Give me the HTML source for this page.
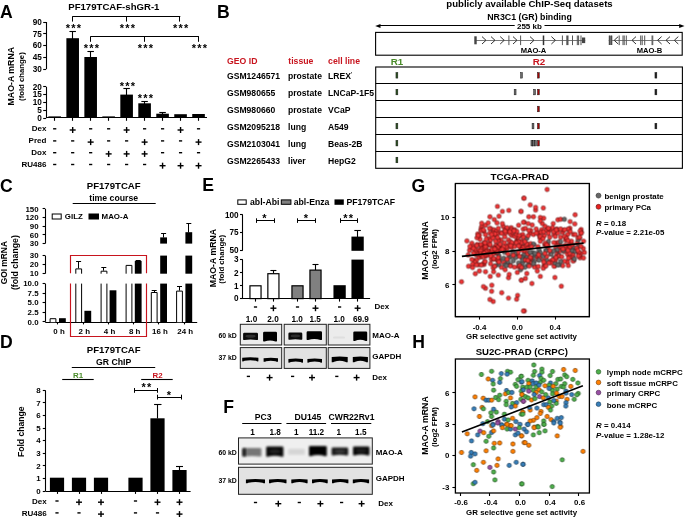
<!DOCTYPE html>
<html><head><meta charset="utf-8"><style>
html,body{margin:0;padding:0;background:#fff;}
svg{display:block;will-change:transform;}
text{font-family:"Liberation Sans",sans-serif;}
</style></head><body>
<svg width="685" height="517" viewBox="0 0 685 517">
<defs><filter id="bl" x="-30%" y="-80%" width="160%" height="260%"><feGaussianBlur stdDeviation="0.7"/></filter><filter id="bs" x="-30%" y="-80%" width="160%" height="260%"><feGaussianBlur stdDeviation="0.45"/></filter><filter id="bf" x="-30%" y="-80%" width="160%" height="260%"><feGaussianBlur stdDeviation="1.0"/></filter></defs>
<rect width="685" height="517" fill="#fff"/>
<text x="0.00" y="18.00" font-size="17.6" font-weight="bold" text-anchor="start" fill="#000" >A</text>
<text x="113.85" y="10.30" font-size="9.6" font-weight="bold" text-anchor="middle" fill="#000" >PF179TCAF-shGR-1</text>
<line x1="46.50" y1="22.00" x2="46.50" y2="69.20" stroke="#000" stroke-width="1.1" />
<line x1="43.20" y1="22.50" x2="46.00" y2="22.50" stroke="#000" stroke-width="1.1" />
<text x="41.90" y="24.82" font-size="8.2" font-weight="bold" text-anchor="end" fill="#000" >90</text>
<line x1="43.20" y1="33.50" x2="46.00" y2="33.50" stroke="#000" stroke-width="1.1" />
<text x="41.90" y="36.62" font-size="8.2" font-weight="bold" text-anchor="end" fill="#000" >75</text>
<line x1="43.20" y1="45.50" x2="46.00" y2="45.50" stroke="#000" stroke-width="1.1" />
<text x="41.90" y="48.42" font-size="8.2" font-weight="bold" text-anchor="end" fill="#000" >60</text>
<line x1="43.20" y1="57.50" x2="46.00" y2="57.50" stroke="#000" stroke-width="1.1" />
<text x="41.90" y="60.22" font-size="8.2" font-weight="bold" text-anchor="end" fill="#000" >45</text>
<line x1="43.20" y1="69.50" x2="46.00" y2="69.50" stroke="#000" stroke-width="1.1" />
<text x="41.90" y="72.02" font-size="8.2" font-weight="bold" text-anchor="end" fill="#000" >30</text>
<line x1="46.50" y1="86.70" x2="46.50" y2="118.20" stroke="#000" stroke-width="1.1" />
<line x1="43.20" y1="86.50" x2="46.00" y2="86.50" stroke="#000" stroke-width="1.1" />
<text x="41.90" y="89.52" font-size="8.2" font-weight="bold" text-anchor="end" fill="#000" >20</text>
<line x1="43.20" y1="94.50" x2="46.00" y2="94.50" stroke="#000" stroke-width="1.1" />
<text x="41.90" y="97.42" font-size="8.2" font-weight="bold" text-anchor="end" fill="#000" >15</text>
<line x1="43.20" y1="102.50" x2="46.00" y2="102.50" stroke="#000" stroke-width="1.1" />
<text x="41.90" y="105.27" font-size="8.2" font-weight="bold" text-anchor="end" fill="#000" >10</text>
<line x1="43.20" y1="110.50" x2="46.00" y2="110.50" stroke="#000" stroke-width="1.1" />
<text x="41.90" y="113.12" font-size="8.2" font-weight="bold" text-anchor="end" fill="#000" >5</text>
<line x1="43.20" y1="118.50" x2="46.00" y2="118.50" stroke="#000" stroke-width="1.1" />
<text x="41.90" y="121.02" font-size="8.2" font-weight="bold" text-anchor="end" fill="#000" >0</text>
<line x1="46.00" y1="117.50" x2="207.00" y2="117.50" stroke="#000" stroke-width="1.1" />
<text transform="translate(13.90,76.20) rotate(-90)" font-size="8.75" font-weight="bold" text-anchor="middle" fill="#000">MAO-A mRNA</text>
<text transform="translate(24.20,76.60) rotate(-90)" font-size="7.75" font-weight="bold" text-anchor="middle" fill="#000">(fold change)</text>
<rect x="48.40" y="116.40" width="12.60" height="1.50" fill="#000" stroke="none" stroke-width="1" />
<line x1="54.50" y1="117.90" x2="54.50" y2="120.80" stroke="#000" stroke-width="1.1" />
<line x1="72.50" y1="31.20" x2="72.50" y2="39.20" stroke="#000" stroke-width="1.1" />
<line x1="69.43" y1="31.50" x2="75.93" y2="31.50" stroke="#000" stroke-width="1.1" />
<rect x="66.38" y="38.20" width="12.60" height="79.70" fill="#000" stroke="none" stroke-width="1" />
<line x1="72.50" y1="117.90" x2="72.50" y2="120.80" stroke="#000" stroke-width="1.1" />
<line x1="90.50" y1="51.20" x2="90.50" y2="58.00" stroke="#000" stroke-width="1.1" />
<line x1="87.41" y1="51.50" x2="93.91" y2="51.50" stroke="#000" stroke-width="1.1" />
<rect x="84.36" y="57.00" width="12.60" height="60.90" fill="#000" stroke="none" stroke-width="1" />
<line x1="90.50" y1="117.90" x2="90.50" y2="120.80" stroke="#000" stroke-width="1.1" />
<rect x="102.34" y="116.40" width="12.60" height="1.50" fill="#000" stroke="none" stroke-width="1" />
<line x1="108.50" y1="117.90" x2="108.50" y2="120.80" stroke="#000" stroke-width="1.1" />
<line x1="126.50" y1="88.20" x2="126.50" y2="95.60" stroke="#000" stroke-width="1.1" />
<line x1="123.37" y1="88.50" x2="129.87" y2="88.50" stroke="#000" stroke-width="1.1" />
<rect x="120.32" y="94.60" width="12.60" height="23.30" fill="#000" stroke="none" stroke-width="1" />
<line x1="126.50" y1="117.90" x2="126.50" y2="120.80" stroke="#000" stroke-width="1.1" />
<line x1="144.50" y1="101.00" x2="144.50" y2="104.30" stroke="#000" stroke-width="1.1" />
<line x1="141.35" y1="101.50" x2="147.85" y2="101.50" stroke="#000" stroke-width="1.1" />
<rect x="138.30" y="103.30" width="12.60" height="14.60" fill="#000" stroke="none" stroke-width="1" />
<line x1="144.50" y1="117.90" x2="144.50" y2="120.80" stroke="#000" stroke-width="1.1" />
<line x1="162.50" y1="112.30" x2="162.50" y2="114.70" stroke="#000" stroke-width="1.1" />
<line x1="159.33" y1="112.50" x2="165.83" y2="112.50" stroke="#000" stroke-width="1.1" />
<rect x="156.28" y="113.70" width="12.60" height="4.20" fill="#000" stroke="none" stroke-width="1" />
<line x1="162.50" y1="117.90" x2="162.50" y2="120.80" stroke="#000" stroke-width="1.1" />
<rect x="174.26" y="114.20" width="12.60" height="3.70" fill="#000" stroke="none" stroke-width="1" />
<line x1="180.50" y1="117.90" x2="180.50" y2="120.80" stroke="#000" stroke-width="1.1" />
<rect x="192.24" y="114.00" width="12.60" height="3.90" fill="#000" stroke="none" stroke-width="1" />
<line x1="198.50" y1="117.90" x2="198.50" y2="120.80" stroke="#000" stroke-width="1.1" />
<line x1="72.70" y1="16.50" x2="180.30" y2="16.50" stroke="#000" stroke-width="1.0" />
<line x1="72.50" y1="16.20" x2="72.50" y2="21.60" stroke="#000" stroke-width="1.0" />
<line x1="126.50" y1="16.20" x2="126.50" y2="21.60" stroke="#000" stroke-width="1.0" />
<line x1="179.50" y1="16.20" x2="179.50" y2="21.60" stroke="#000" stroke-width="1.0" />
<line x1="90.60" y1="36.50" x2="198.90" y2="36.50" stroke="#000" stroke-width="1.0" />
<line x1="90.50" y1="36.30" x2="90.50" y2="41.80" stroke="#000" stroke-width="1.0" />
<line x1="144.50" y1="36.30" x2="144.50" y2="41.80" stroke="#000" stroke-width="1.0" />
<line x1="198.50" y1="36.30" x2="198.50" y2="41.80" stroke="#000" stroke-width="1.0" />
<text x="74.10" y="31.92" font-size="11.0" font-weight="bold" text-anchor="middle" fill="#000" letter-spacing="1.2">***</text>
<text x="128.00" y="31.92" font-size="11.0" font-weight="bold" text-anchor="middle" fill="#000" letter-spacing="1.2">***</text>
<text x="181.20" y="31.92" font-size="11.0" font-weight="bold" text-anchor="middle" fill="#000" letter-spacing="1.2">***</text>
<text x="92.00" y="52.12" font-size="11.0" font-weight="bold" text-anchor="middle" fill="#000" letter-spacing="1.2">***</text>
<text x="145.90" y="52.12" font-size="11.0" font-weight="bold" text-anchor="middle" fill="#000" letter-spacing="1.2">***</text>
<text x="199.90" y="52.12" font-size="11.0" font-weight="bold" text-anchor="middle" fill="#000" letter-spacing="1.2">***</text>
<text x="128.00" y="89.92" font-size="11.0" font-weight="bold" text-anchor="middle" fill="#000" letter-spacing="1.2">***</text>
<text x="145.90" y="102.02" font-size="11.0" font-weight="bold" text-anchor="middle" fill="#000" letter-spacing="1.2">***</text>
<text x="46.40" y="130.85" font-size="8.0" font-weight="bold" text-anchor="end" fill="#000" >Dex</text>
<rect x="53.10" y="128.10" width="3.20" height="1.40" fill="#000" stroke="none" stroke-width="1" />
<rect x="69.68" y="129.30" width="6.00" height="1.40" fill="#000" stroke="none" stroke-width="1" />
<rect x="71.98" y="127.00" width="1.40" height="6.00" fill="#000" stroke="none" stroke-width="1" />
<rect x="89.06" y="128.10" width="3.20" height="1.40" fill="#000" stroke="none" stroke-width="1" />
<rect x="107.04" y="128.10" width="3.20" height="1.40" fill="#000" stroke="none" stroke-width="1" />
<rect x="123.62" y="129.30" width="6.00" height="1.40" fill="#000" stroke="none" stroke-width="1" />
<rect x="125.92" y="127.00" width="1.40" height="6.00" fill="#000" stroke="none" stroke-width="1" />
<rect x="143.00" y="128.10" width="3.20" height="1.40" fill="#000" stroke="none" stroke-width="1" />
<rect x="160.98" y="128.10" width="3.20" height="1.40" fill="#000" stroke="none" stroke-width="1" />
<rect x="177.56" y="129.30" width="6.00" height="1.40" fill="#000" stroke="none" stroke-width="1" />
<rect x="179.86" y="127.00" width="1.40" height="6.00" fill="#000" stroke="none" stroke-width="1" />
<rect x="196.94" y="128.10" width="3.20" height="1.40" fill="#000" stroke="none" stroke-width="1" />
<text x="46.40" y="142.95" font-size="8.0" font-weight="bold" text-anchor="end" fill="#000" >Pred</text>
<rect x="53.10" y="140.20" width="3.20" height="1.40" fill="#000" stroke="none" stroke-width="1" />
<rect x="71.08" y="140.20" width="3.20" height="1.40" fill="#000" stroke="none" stroke-width="1" />
<rect x="87.66" y="141.40" width="6.00" height="1.40" fill="#000" stroke="none" stroke-width="1" />
<rect x="89.96" y="139.10" width="1.40" height="6.00" fill="#000" stroke="none" stroke-width="1" />
<rect x="107.04" y="140.20" width="3.20" height="1.40" fill="#000" stroke="none" stroke-width="1" />
<rect x="125.02" y="140.20" width="3.20" height="1.40" fill="#000" stroke="none" stroke-width="1" />
<rect x="141.60" y="141.40" width="6.00" height="1.40" fill="#000" stroke="none" stroke-width="1" />
<rect x="143.90" y="139.10" width="1.40" height="6.00" fill="#000" stroke="none" stroke-width="1" />
<rect x="160.98" y="140.20" width="3.20" height="1.40" fill="#000" stroke="none" stroke-width="1" />
<rect x="178.96" y="140.20" width="3.20" height="1.40" fill="#000" stroke="none" stroke-width="1" />
<rect x="195.54" y="141.40" width="6.00" height="1.40" fill="#000" stroke="none" stroke-width="1" />
<rect x="197.84" y="139.10" width="1.40" height="6.00" fill="#000" stroke="none" stroke-width="1" />
<text x="46.40" y="155.45" font-size="8.0" font-weight="bold" text-anchor="end" fill="#000" >Dox</text>
<rect x="53.10" y="152.00" width="3.20" height="1.40" fill="#000" stroke="none" stroke-width="1" />
<rect x="71.08" y="152.00" width="3.20" height="1.40" fill="#000" stroke="none" stroke-width="1" />
<rect x="89.06" y="152.00" width="3.20" height="1.40" fill="#000" stroke="none" stroke-width="1" />
<rect x="105.64" y="153.20" width="6.00" height="1.40" fill="#000" stroke="none" stroke-width="1" />
<rect x="107.94" y="150.90" width="1.40" height="6.00" fill="#000" stroke="none" stroke-width="1" />
<rect x="123.62" y="153.20" width="6.00" height="1.40" fill="#000" stroke="none" stroke-width="1" />
<rect x="125.92" y="150.90" width="1.40" height="6.00" fill="#000" stroke="none" stroke-width="1" />
<rect x="141.60" y="153.20" width="6.00" height="1.40" fill="#000" stroke="none" stroke-width="1" />
<rect x="143.90" y="150.90" width="1.40" height="6.00" fill="#000" stroke="none" stroke-width="1" />
<rect x="160.98" y="152.00" width="3.20" height="1.40" fill="#000" stroke="none" stroke-width="1" />
<rect x="178.96" y="152.00" width="3.20" height="1.40" fill="#000" stroke="none" stroke-width="1" />
<rect x="196.94" y="152.00" width="3.20" height="1.40" fill="#000" stroke="none" stroke-width="1" />
<text x="46.40" y="167.25" font-size="8.0" font-weight="bold" text-anchor="end" fill="#000" >RU486</text>
<rect x="53.10" y="163.80" width="3.20" height="1.40" fill="#000" stroke="none" stroke-width="1" />
<rect x="71.08" y="163.80" width="3.20" height="1.40" fill="#000" stroke="none" stroke-width="1" />
<rect x="89.06" y="163.80" width="3.20" height="1.40" fill="#000" stroke="none" stroke-width="1" />
<rect x="107.04" y="163.80" width="3.20" height="1.40" fill="#000" stroke="none" stroke-width="1" />
<rect x="125.02" y="163.80" width="3.20" height="1.40" fill="#000" stroke="none" stroke-width="1" />
<rect x="143.00" y="163.80" width="3.20" height="1.40" fill="#000" stroke="none" stroke-width="1" />
<rect x="159.58" y="165.00" width="6.00" height="1.40" fill="#000" stroke="none" stroke-width="1" />
<rect x="161.88" y="162.70" width="1.40" height="6.00" fill="#000" stroke="none" stroke-width="1" />
<rect x="177.56" y="165.00" width="6.00" height="1.40" fill="#000" stroke="none" stroke-width="1" />
<rect x="179.86" y="162.70" width="1.40" height="6.00" fill="#000" stroke="none" stroke-width="1" />
<rect x="195.54" y="165.00" width="6.00" height="1.40" fill="#000" stroke="none" stroke-width="1" />
<rect x="197.84" y="162.70" width="1.40" height="6.00" fill="#000" stroke="none" stroke-width="1" />
<text x="217.00" y="18.00" font-size="17.6" font-weight="bold" text-anchor="start" fill="#000" >B</text>
<text x="529.50" y="7.40" font-size="9.6" font-weight="bold" text-anchor="middle" fill="#000" >publicly available ChIP-Seq datasets</text>
<text x="529.50" y="19.60" font-size="8.8" font-weight="bold" text-anchor="middle" fill="#000" >NR3C1 (GR) binding</text>
<line x1="378.00" y1="25.50" x2="514.70" y2="25.50" stroke="#000" stroke-width="1.1" />
<line x1="544.50" y1="25.50" x2="681.00" y2="25.50" stroke="#000" stroke-width="1.1" />
<path d="M375.2,25.9 L380.5,23.9 L380.5,27.9 Z" fill="#000"/>
<path d="M684.5,25.9 L679.2,23.9 L679.2,27.9 Z" fill="#000"/>
<text x="529.40" y="28.95" font-size="8.0" font-weight="bold" text-anchor="middle" fill="#000" >255 kb</text>
<rect x="375.60" y="32.40" width="306.60" height="22.80" fill="none" stroke="#000" stroke-width="1.1" />
<line x1="474.80" y1="40.50" x2="585.20" y2="40.50" stroke="#555" stroke-width="0.8" />
<line x1="608.70" y1="40.50" x2="681.90" y2="40.50" stroke="#555" stroke-width="0.8" />
<rect x="474.30" y="36.30" width="2.40" height="8.00" fill="#444" stroke="none" stroke-width="1" />
<path d="M482.00,36.60 L486.00,40.30 L482.00,44.00" fill="none" stroke="#333" stroke-width="1.0"/>
<path d="M491.00,36.60 L495.00,40.30 L491.00,44.00" fill="none" stroke="#333" stroke-width="1.0"/>
<path d="M500.20,36.60 L504.20,40.30 L500.20,44.00" fill="none" stroke="#333" stroke-width="1.0"/>
<path d="M513.00,36.60 L517.00,40.30 L513.00,44.00" fill="none" stroke="#333" stroke-width="1.0"/>
<path d="M530.00,36.60 L534.00,40.30 L530.00,44.00" fill="none" stroke="#333" stroke-width="1.0"/>
<path d="M551.40,36.60 L555.40,40.30 L551.40,44.00" fill="none" stroke="#333" stroke-width="1.0"/>
<rect x="508.40" y="35.50" width="1.00" height="9.60" fill="#555" stroke="none" stroke-width="1" />
<rect x="520.10" y="35.50" width="1.00" height="9.60" fill="#555" stroke="none" stroke-width="1" />
<rect x="561.90" y="35.50" width="1.00" height="9.60" fill="#555" stroke="none" stroke-width="1" />
<rect x="572.00" y="35.50" width="1.00" height="9.60" fill="#555" stroke="none" stroke-width="1" />
<rect x="576.80" y="35.50" width="1.00" height="9.60" fill="#555" stroke="none" stroke-width="1" />
<rect x="578.10" y="35.50" width="1.00" height="9.60" fill="#555" stroke="none" stroke-width="1" />
<rect x="580.50" y="35.50" width="1.00" height="9.60" fill="#555" stroke="none" stroke-width="1" />
<rect x="542.75" y="35.50" width="1.50" height="9.60" fill="#333" stroke="none" stroke-width="1" />
<rect x="566.30" y="35.50" width="2.20" height="9.60" fill="#555" stroke="none" stroke-width="1" />
<rect x="582.00" y="37.50" width="3.20" height="5.60" fill="#444" stroke="none" stroke-width="1" />
<rect x="608.70" y="35.60" width="3.70" height="9.40" fill="#777" stroke="none" stroke-width="1" />
<rect x="609.15" y="35.60" width="0.90" height="9.40" fill="#444" stroke="none" stroke-width="1" />
<rect x="610.95" y="35.60" width="0.90" height="9.40" fill="#444" stroke="none" stroke-width="1" />
<path d="M618.20,36.60 L614.20,40.30 L618.20,44.00" fill="none" stroke="#333" stroke-width="1.0"/>
<path d="M636.00,36.60 L632.00,40.30 L636.00,44.00" fill="none" stroke="#333" stroke-width="1.0"/>
<path d="M661.60,36.60 L657.60,40.30 L661.60,44.00" fill="none" stroke="#333" stroke-width="1.0"/>
<path d="M670.00,36.60 L666.00,40.30 L670.00,44.00" fill="none" stroke="#333" stroke-width="1.0"/>
<path d="M678.30,36.60 L674.30,40.30 L678.30,44.00" fill="none" stroke="#333" stroke-width="1.0"/>
<rect x="618.70" y="35.50" width="1.00" height="9.60" fill="#555" stroke="none" stroke-width="1" />
<rect x="622.50" y="35.50" width="1.00" height="9.60" fill="#555" stroke="none" stroke-width="1" />
<rect x="623.70" y="35.50" width="1.00" height="9.60" fill="#555" stroke="none" stroke-width="1" />
<rect x="625.80" y="35.50" width="1.00" height="9.60" fill="#555" stroke="none" stroke-width="1" />
<rect x="640.20" y="35.50" width="1.00" height="9.60" fill="#555" stroke="none" stroke-width="1" />
<rect x="641.70" y="35.50" width="1.00" height="9.60" fill="#555" stroke="none" stroke-width="1" />
<rect x="644.20" y="35.50" width="1.00" height="9.60" fill="#555" stroke="none" stroke-width="1" />
<rect x="651.50" y="35.50" width="1.80" height="9.60" fill="#666" stroke="none" stroke-width="1" />
<text x="533.50" y="53.41" font-size="7.6" font-weight="bold" text-anchor="middle" fill="#000" >MAO-A</text>
<text x="649.50" y="53.41" font-size="7.6" font-weight="bold" text-anchor="middle" fill="#000" >MAO-B</text>
<text x="227.00" y="63.99" font-size="8.7" font-weight="bold" text-anchor="start" fill="#c8141e" >GEO ID</text>
<text x="288.30" y="63.99" font-size="8.7" font-weight="bold" text-anchor="start" fill="#c8141e" >tissue</text>
<text x="328.10" y="63.99" font-size="8.7" font-weight="bold" text-anchor="start" fill="#c8141e" >cell line</text>
<text x="397.00" y="64.87" font-size="9.8" font-weight="bold" text-anchor="middle" fill="#4a8c2a" >R1</text>
<text x="539.00" y="64.77" font-size="9.8" font-weight="bold" text-anchor="middle" fill="#c8141e" >R2</text>
<rect x="375.70" y="67.00" width="306.70" height="101.30" fill="none" stroke="#000" stroke-width="1.1" />
<line x1="375.70" y1="83.50" x2="682.40" y2="83.50" stroke="#000" stroke-width="1.1" />
<line x1="375.70" y1="100.50" x2="682.40" y2="100.50" stroke="#000" stroke-width="1.1" />
<line x1="375.70" y1="117.50" x2="682.40" y2="117.50" stroke="#000" stroke-width="1.1" />
<line x1="375.70" y1="134.50" x2="682.40" y2="134.50" stroke="#000" stroke-width="1.1" />
<line x1="375.70" y1="151.50" x2="682.40" y2="151.50" stroke="#000" stroke-width="1.1" />
<text x="227.00" y="78.86" font-size="8.6" font-weight="bold" text-anchor="start" fill="#000" >GSM1246571</text>
<text x="288.00" y="78.86" font-size="8.6" font-weight="bold" text-anchor="start" fill="#000" >prostate</text>
<text x="328.10" y="78.86" font-size="8.6" font-weight="bold" text-anchor="start" fill="#000" >LREX<tspan font-size="5" dy="-3">'</tspan></text>
<text x="227.00" y="95.61" font-size="8.6" font-weight="bold" text-anchor="start" fill="#000" >GSM980655</text>
<text x="288.00" y="95.61" font-size="8.6" font-weight="bold" text-anchor="start" fill="#000" >prostate</text>
<text x="328.10" y="95.61" font-size="8.6" font-weight="bold" text-anchor="start" fill="#000" >LNCaP-1F5</text>
<text x="227.00" y="112.56" font-size="8.6" font-weight="bold" text-anchor="start" fill="#000" >GSM980660</text>
<text x="288.00" y="112.56" font-size="8.6" font-weight="bold" text-anchor="start" fill="#000" >prostate</text>
<text x="328.10" y="112.56" font-size="8.6" font-weight="bold" text-anchor="start" fill="#000" >VCaP</text>
<text x="227.00" y="129.61" font-size="8.6" font-weight="bold" text-anchor="start" fill="#000" >GSM2095218</text>
<text x="288.00" y="129.61" font-size="8.6" font-weight="bold" text-anchor="start" fill="#000" >lung</text>
<text x="328.10" y="129.61" font-size="8.6" font-weight="bold" text-anchor="start" fill="#000" >A549</text>
<text x="227.00" y="146.71" font-size="8.6" font-weight="bold" text-anchor="start" fill="#000" >GSM2103041</text>
<text x="288.00" y="146.71" font-size="8.6" font-weight="bold" text-anchor="start" fill="#000" >lung</text>
<text x="328.10" y="146.71" font-size="8.6" font-weight="bold" text-anchor="start" fill="#000" >Beas-2B</text>
<text x="227.00" y="163.56" font-size="8.6" font-weight="bold" text-anchor="start" fill="#000" >GSM2265433</text>
<text x="288.00" y="163.56" font-size="8.6" font-weight="bold" text-anchor="start" fill="#000" >liver</text>
<text x="328.10" y="163.56" font-size="8.6" font-weight="bold" text-anchor="start" fill="#000" >HepG2</text>
<rect x="395.95" y="72.50" width="1.90" height="5.60" fill="#2f5524" stroke="#111" stroke-width="0.45" />
<rect x="395.95" y="89.25" width="1.90" height="5.60" fill="#2f5524" stroke="#111" stroke-width="0.45" />
<rect x="395.95" y="123.25" width="1.90" height="5.60" fill="#2f5524" stroke="#111" stroke-width="0.45" />
<rect x="395.95" y="140.35" width="1.90" height="5.60" fill="#2f5524" stroke="#111" stroke-width="0.45" />
<rect x="395.95" y="157.20" width="1.90" height="5.60" fill="#2f5524" stroke="#111" stroke-width="0.45" />
<rect x="537.45" y="72.50" width="1.90" height="5.60" fill="#a00606" stroke="#111" stroke-width="0.45" />
<rect x="537.45" y="89.25" width="1.90" height="5.60" fill="#a00606" stroke="#111" stroke-width="0.45" />
<rect x="537.45" y="106.20" width="1.90" height="5.60" fill="#a00606" stroke="#111" stroke-width="0.45" />
<rect x="537.45" y="123.25" width="1.90" height="5.60" fill="#a00606" stroke="#111" stroke-width="0.45" />
<rect x="537.45" y="140.35" width="1.90" height="5.60" fill="#a00606" stroke="#111" stroke-width="0.45" />
<rect x="520.55" y="72.50" width="1.90" height="5.60" fill="#6a6a6a" stroke="#111" stroke-width="0.45" />
<rect x="514.15" y="89.25" width="1.90" height="5.60" fill="#6a6a6a" stroke="#111" stroke-width="0.45" />
<rect x="533.65" y="89.25" width="1.90" height="5.60" fill="#6a6a6a" stroke="#111" stroke-width="0.45" />
<rect x="532.05" y="123.25" width="1.90" height="5.60" fill="#6a6a6a" stroke="#111" stroke-width="0.45" />
<rect x="530.95" y="140.35" width="1.90" height="5.60" fill="#6a6a6a" stroke="#111" stroke-width="0.45" />
<rect x="532.75" y="140.35" width="1.90" height="5.60" fill="#6a6a6a" stroke="#111" stroke-width="0.45" />
<rect x="534.55" y="140.35" width="1.90" height="5.60" fill="#6a6a6a" stroke="#111" stroke-width="0.45" />
<rect x="654.95" y="72.50" width="1.90" height="5.60" fill="#222" stroke="#111" stroke-width="0.45" />
<rect x="654.95" y="89.25" width="1.90" height="5.60" fill="#222" stroke="#111" stroke-width="0.45" />
<rect x="654.95" y="123.25" width="1.90" height="5.60" fill="#222" stroke="#111" stroke-width="0.45" />
<text x="0.00" y="191.50" font-size="17.6" font-weight="bold" text-anchor="start" fill="#000" >C</text>
<text x="113.70" y="188.90" font-size="9.6" font-weight="bold" text-anchor="middle" fill="#000" >PF179TCAF</text>
<text x="113.70" y="201.00" font-size="8.7" font-weight="bold" text-anchor="middle" fill="#000" >time course</text>
<line x1="72.70" y1="203.50" x2="155.70" y2="203.50" stroke="#000" stroke-width="1.1" />
<rect x="52.20" y="214.00" width="9.00" height="5.00" fill="#fff" stroke="#000" stroke-width="1.0" />
<text x="64.80" y="219.22" font-size="7.9" font-weight="bold" text-anchor="start" fill="#000" >GILZ</text>
<rect x="88.50" y="213.50" width="10.50" height="6.00" fill="#000" stroke="none" stroke-width="1" />
<text x="101.60" y="219.22" font-size="7.9" font-weight="bold" text-anchor="start" fill="#000" >MAO-A</text>
<line x1="45.50" y1="208.90" x2="45.50" y2="243.60" stroke="#000" stroke-width="1.1" />
<line x1="42.60" y1="208.50" x2="45.20" y2="208.50" stroke="#000" stroke-width="1.1" />
<text x="38.60" y="211.62" font-size="7.9" font-weight="bold" text-anchor="end" fill="#000" >150</text>
<line x1="42.60" y1="217.50" x2="45.20" y2="217.50" stroke="#000" stroke-width="1.1" />
<text x="38.60" y="220.32" font-size="7.9" font-weight="bold" text-anchor="end" fill="#000" >120</text>
<line x1="42.60" y1="226.50" x2="45.20" y2="226.50" stroke="#000" stroke-width="1.1" />
<text x="38.60" y="228.97" font-size="7.9" font-weight="bold" text-anchor="end" fill="#000" >90</text>
<line x1="42.60" y1="234.50" x2="45.20" y2="234.50" stroke="#000" stroke-width="1.1" />
<text x="38.60" y="237.62" font-size="7.9" font-weight="bold" text-anchor="end" fill="#000" >60</text>
<line x1="42.60" y1="243.50" x2="45.20" y2="243.50" stroke="#000" stroke-width="1.1" />
<text x="38.60" y="246.32" font-size="7.9" font-weight="bold" text-anchor="end" fill="#000" >30</text>
<line x1="45.50" y1="255.60" x2="45.50" y2="273.70" stroke="#000" stroke-width="1.1" />
<line x1="42.60" y1="255.50" x2="45.20" y2="255.50" stroke="#000" stroke-width="1.1" />
<text x="38.60" y="258.32" font-size="7.9" font-weight="bold" text-anchor="end" fill="#000" >30</text>
<line x1="42.60" y1="264.50" x2="45.20" y2="264.50" stroke="#000" stroke-width="1.1" />
<text x="38.60" y="267.37" font-size="7.9" font-weight="bold" text-anchor="end" fill="#000" >20</text>
<line x1="42.60" y1="273.50" x2="45.20" y2="273.50" stroke="#000" stroke-width="1.1" />
<text x="38.60" y="276.42" font-size="7.9" font-weight="bold" text-anchor="end" fill="#000" >10</text>
<line x1="45.50" y1="283.60" x2="45.50" y2="321.80" stroke="#000" stroke-width="1.1" />
<line x1="42.60" y1="283.50" x2="45.20" y2="283.50" stroke="#000" stroke-width="1.1" />
<text x="38.60" y="286.32" font-size="7.9" font-weight="bold" text-anchor="end" fill="#000" >10.0</text>
<line x1="42.60" y1="293.50" x2="45.20" y2="293.50" stroke="#000" stroke-width="1.1" />
<text x="38.60" y="295.87" font-size="7.9" font-weight="bold" text-anchor="end" fill="#000" >7.5</text>
<line x1="42.60" y1="302.50" x2="45.20" y2="302.50" stroke="#000" stroke-width="1.1" />
<text x="38.60" y="305.42" font-size="7.9" font-weight="bold" text-anchor="end" fill="#000" >5.0</text>
<line x1="42.60" y1="312.50" x2="45.20" y2="312.50" stroke="#000" stroke-width="1.1" />
<text x="38.60" y="314.97" font-size="7.9" font-weight="bold" text-anchor="end" fill="#000" >2.5</text>
<line x1="42.60" y1="321.50" x2="45.20" y2="321.50" stroke="#000" stroke-width="1.1" />
<text x="38.60" y="324.52" font-size="7.9" font-weight="bold" text-anchor="end" fill="#000" >0.0</text>
<line x1="45.20" y1="322.50" x2="197.20" y2="322.50" stroke="#000" stroke-width="1.1" />
<text transform="translate(7.10,262.70) rotate(-90)" font-size="8.4" font-weight="bold" text-anchor="middle" fill="#000">GOI mRNA</text>
<text transform="translate(17.80,262.60) rotate(-90)" font-size="8.75" font-weight="bold" text-anchor="middle" fill="#000">(fold change)</text>
<line x1="57.50" y1="322.20" x2="57.50" y2="324.40" stroke="#000" stroke-width="1.1" />
<line x1="83.50" y1="322.20" x2="83.50" y2="324.40" stroke="#000" stroke-width="1.1" />
<line x1="108.50" y1="322.20" x2="108.50" y2="324.40" stroke="#000" stroke-width="1.1" />
<line x1="133.50" y1="322.20" x2="133.50" y2="324.40" stroke="#000" stroke-width="1.1" />
<line x1="158.50" y1="322.20" x2="158.50" y2="324.40" stroke="#000" stroke-width="1.1" />
<line x1="184.50" y1="322.20" x2="184.50" y2="324.40" stroke="#000" stroke-width="1.1" />
<path d="M50.10,322.2 V318.70 H55.90 V322.2" fill="#fff" stroke="#000" stroke-width="1"/>
<rect x="59.00" y="318.20" width="6.80" height="4.00" fill="#000" stroke="none" stroke-width="1" />
<path d="M75.80,322.2 V283.6 M81.60,322.2 V283.6" fill="none" stroke="#000" stroke-width="1"/>
<path d="M75.80,273.7 V268.90 H81.60 V273.7" fill="#fff" stroke="#000" stroke-width="1"/>
<line x1="78.50" y1="261.90" x2="78.50" y2="268.40" stroke="#000" stroke-width="1.0" />
<line x1="76.10" y1="261.50" x2="81.10" y2="261.50" stroke="#000" stroke-width="1.0" />
<rect x="84.40" y="310.80" width="6.80" height="11.40" fill="#000" stroke="none" stroke-width="1" />
<path d="M101.10,322.2 V283.6 M106.90,322.2 V283.6" fill="none" stroke="#000" stroke-width="1"/>
<path d="M101.10,273.7 V271.20 H106.90 V273.7" fill="#fff" stroke="#000" stroke-width="1"/>
<line x1="103.50" y1="267.50" x2="103.50" y2="270.70" stroke="#000" stroke-width="1.0" />
<line x1="101.30" y1="267.50" x2="106.30" y2="267.50" stroke="#000" stroke-width="1.0" />
<rect x="109.60" y="290.30" width="6.80" height="31.90" fill="#000" stroke="none" stroke-width="1" />
<path d="M126.10,322.2 V283.6 M131.90,322.2 V283.6" fill="none" stroke="#000" stroke-width="1"/>
<path d="M126.10,273.7 V265.40 H131.90 V273.7" fill="#fff" stroke="#000" stroke-width="1"/>
<rect x="134.80" y="283.60" width="6.80" height="38.60" fill="#000" stroke="none" stroke-width="1" />
<rect x="134.80" y="260.90" width="6.80" height="12.80" fill="#000" stroke="none" stroke-width="1" />
<line x1="138.50" y1="260.00" x2="138.50" y2="261.50" stroke="#000" stroke-width="1.0" />
<line x1="135.70" y1="260.50" x2="140.70" y2="260.50" stroke="#000" stroke-width="1.0" />
<line x1="154.50" y1="290.60" x2="154.50" y2="292.00" stroke="#000" stroke-width="1.0" />
<line x1="151.70" y1="290.50" x2="156.70" y2="290.50" stroke="#000" stroke-width="1.0" />
<path d="M151.30,322.2 V292.50 H157.10 V322.2" fill="#fff" stroke="#000" stroke-width="1"/>
<rect x="160.20" y="283.60" width="6.80" height="38.60" fill="#000" stroke="none" stroke-width="1" />
<rect x="160.20" y="255.60" width="6.80" height="18.10" fill="#000" stroke="none" stroke-width="1" />
<rect x="160.20" y="237.40" width="6.80" height="6.20" fill="#000" stroke="none" stroke-width="1" />
<line x1="163.50" y1="233.40" x2="163.50" y2="237.60" stroke="#000" stroke-width="1.0" />
<line x1="161.10" y1="233.50" x2="166.10" y2="233.50" stroke="#000" stroke-width="1.0" />
<line x1="179.50" y1="286.00" x2="179.50" y2="290.60" stroke="#000" stroke-width="1.0" />
<line x1="177.00" y1="286.50" x2="182.00" y2="286.50" stroke="#000" stroke-width="1.0" />
<path d="M176.60,322.2 V291.10 H182.40 V322.2" fill="#fff" stroke="#000" stroke-width="1"/>
<rect x="185.40" y="283.60" width="6.80" height="38.60" fill="#000" stroke="none" stroke-width="1" />
<rect x="185.40" y="255.60" width="6.80" height="18.10" fill="#000" stroke="none" stroke-width="1" />
<rect x="185.40" y="232.20" width="6.80" height="11.40" fill="#000" stroke="none" stroke-width="1" />
<line x1="188.50" y1="223.10" x2="188.50" y2="232.40" stroke="#000" stroke-width="1.0" />
<line x1="186.30" y1="223.50" x2="191.30" y2="223.50" stroke="#000" stroke-width="1.0" />
<path d="M70.5,273.2 V255.5 H146.5 V273.2 M70.5,283.6 V336.5 H146.5 V283.6" fill="none" stroke="#c8141e" stroke-width="1.15"/>
<text x="59.00" y="334.32" font-size="7.9" font-weight="bold" text-anchor="middle" fill="#000" >0 h</text>
<text x="84.30" y="334.32" font-size="7.9" font-weight="bold" text-anchor="middle" fill="#000" >2 h</text>
<text x="109.50" y="334.32" font-size="7.9" font-weight="bold" text-anchor="middle" fill="#000" >4 h</text>
<text x="134.70" y="334.32" font-size="7.9" font-weight="bold" text-anchor="middle" fill="#000" >8 h</text>
<text x="160.00" y="334.32" font-size="7.9" font-weight="bold" text-anchor="middle" fill="#000" >16 h</text>
<text x="185.20" y="334.32" font-size="7.9" font-weight="bold" text-anchor="middle" fill="#000" >24 h</text>
<text x="0.00" y="348.00" font-size="17.6" font-weight="bold" text-anchor="start" fill="#000" >D</text>
<text x="113.70" y="353.20" font-size="9.6" font-weight="bold" text-anchor="middle" fill="#000" >PF179TCAF</text>
<text x="113.70" y="364.70" font-size="8.7" font-weight="bold" text-anchor="middle" fill="#000" >GR ChIP</text>
<line x1="71.80" y1="367.50" x2="155.20" y2="367.50" stroke="#000" stroke-width="1.1" />
<text x="78.10" y="377.92" font-size="7.9" font-weight="bold" text-anchor="middle" fill="#4a8c2a" >R1</text>
<line x1="62.20" y1="379.50" x2="93.70" y2="379.50" stroke="#000" stroke-width="1.1" />
<text x="157.50" y="377.92" font-size="7.9" font-weight="bold" text-anchor="middle" fill="#c8141e" >R2</text>
<line x1="141.20" y1="379.50" x2="172.70" y2="379.50" stroke="#000" stroke-width="1.1" />
<line x1="45.50" y1="390.40" x2="45.50" y2="491.10" stroke="#000" stroke-width="1.1" />
<line x1="42.80" y1="491.50" x2="45.60" y2="491.50" stroke="#000" stroke-width="1.1" />
<text x="40.60" y="493.82" font-size="7.9" font-weight="bold" text-anchor="end" fill="#000" >0</text>
<line x1="42.80" y1="478.50" x2="45.60" y2="478.50" stroke="#000" stroke-width="1.1" />
<text x="40.60" y="481.23" font-size="7.9" font-weight="bold" text-anchor="end" fill="#000" >1</text>
<line x1="42.80" y1="465.50" x2="45.60" y2="465.50" stroke="#000" stroke-width="1.1" />
<text x="40.60" y="468.64" font-size="7.9" font-weight="bold" text-anchor="end" fill="#000" >2</text>
<line x1="42.80" y1="453.50" x2="45.60" y2="453.50" stroke="#000" stroke-width="1.1" />
<text x="40.60" y="456.06" font-size="7.9" font-weight="bold" text-anchor="end" fill="#000" >3</text>
<line x1="42.80" y1="440.50" x2="45.60" y2="440.50" stroke="#000" stroke-width="1.1" />
<text x="40.60" y="443.47" font-size="7.9" font-weight="bold" text-anchor="end" fill="#000" >4</text>
<line x1="42.80" y1="428.50" x2="45.60" y2="428.50" stroke="#000" stroke-width="1.1" />
<text x="40.60" y="430.88" font-size="7.9" font-weight="bold" text-anchor="end" fill="#000" >5</text>
<line x1="42.80" y1="415.50" x2="45.60" y2="415.50" stroke="#000" stroke-width="1.1" />
<text x="40.60" y="418.29" font-size="7.9" font-weight="bold" text-anchor="end" fill="#000" >6</text>
<line x1="42.80" y1="402.50" x2="45.60" y2="402.50" stroke="#000" stroke-width="1.1" />
<text x="40.60" y="405.71" font-size="7.9" font-weight="bold" text-anchor="end" fill="#000" >7</text>
<line x1="42.80" y1="390.50" x2="45.60" y2="390.50" stroke="#000" stroke-width="1.1" />
<text x="40.60" y="393.12" font-size="7.9" font-weight="bold" text-anchor="end" fill="#000" >8</text>
<line x1="45.60" y1="491.50" x2="190.60" y2="491.50" stroke="#000" stroke-width="1.1" />
<text transform="translate(23.90,431.75) rotate(-90)" font-size="8.6" font-weight="bold" text-anchor="middle" fill="#000">Fold change</text>
<rect x="49.90" y="477.70" width="14.20" height="13.40" fill="#000" stroke="none" stroke-width="1" />
<line x1="57.50" y1="491.10" x2="57.50" y2="493.90" stroke="#000" stroke-width="1.1" />
<rect x="71.90" y="477.70" width="14.20" height="13.40" fill="#000" stroke="none" stroke-width="1" />
<line x1="79.50" y1="491.10" x2="79.50" y2="493.90" stroke="#000" stroke-width="1.1" />
<rect x="93.90" y="477.70" width="14.20" height="13.40" fill="#000" stroke="none" stroke-width="1" />
<line x1="101.50" y1="491.10" x2="101.50" y2="493.90" stroke="#000" stroke-width="1.1" />
<rect x="128.40" y="477.70" width="14.20" height="13.40" fill="#000" stroke="none" stroke-width="1" />
<line x1="135.50" y1="491.10" x2="135.50" y2="493.90" stroke="#000" stroke-width="1.1" />
<rect x="150.40" y="418.30" width="14.20" height="72.80" fill="#000" stroke="none" stroke-width="1" />
<line x1="157.50" y1="491.10" x2="157.50" y2="493.90" stroke="#000" stroke-width="1.1" />
<rect x="172.40" y="470.00" width="14.20" height="21.10" fill="#000" stroke="none" stroke-width="1" />
<line x1="179.50" y1="491.10" x2="179.50" y2="493.90" stroke="#000" stroke-width="1.1" />
<line x1="157.50" y1="404.00" x2="157.50" y2="418.50" stroke="#000" stroke-width="1.1" />
<line x1="154.10" y1="404.50" x2="161.50" y2="404.50" stroke="#000" stroke-width="1.1" />
<line x1="179.50" y1="466.30" x2="179.50" y2="470.20" stroke="#000" stroke-width="1.1" />
<line x1="176.00" y1="466.50" x2="183.00" y2="466.50" stroke="#000" stroke-width="1.1" />
<line x1="134.50" y1="390.50" x2="157.80" y2="390.50" stroke="#000" stroke-width="1.0" />
<line x1="134.50" y1="388.00" x2="134.50" y2="392.80" stroke="#000" stroke-width="1.0" />
<line x1="157.50" y1="388.00" x2="157.50" y2="392.80" stroke="#000" stroke-width="1.0" />
<text x="146.90" y="390.82" font-size="11.0" font-weight="bold" text-anchor="middle" fill="#000" letter-spacing="1.2">**</text>
<line x1="157.80" y1="397.50" x2="181.10" y2="397.50" stroke="#000" stroke-width="1.0" />
<line x1="157.50" y1="394.70" x2="157.50" y2="399.50" stroke="#000" stroke-width="1.0" />
<line x1="181.50" y1="394.70" x2="181.50" y2="399.50" stroke="#000" stroke-width="1.0" />
<text x="169.50" y="399.12" font-size="11.0" font-weight="bold" text-anchor="middle" fill="#000" letter-spacing="1.2">*</text>
<text x="46.60" y="503.75" font-size="8.0" font-weight="bold" text-anchor="end" fill="#000" >Dex</text>
<text x="46.60" y="515.65" font-size="8.0" font-weight="bold" text-anchor="end" fill="#000" >RU486</text>
<rect x="55.40" y="500.30" width="3.20" height="1.40" fill="#000" stroke="none" stroke-width="1" />
<rect x="76.00" y="501.50" width="6.00" height="1.40" fill="#000" stroke="none" stroke-width="1" />
<rect x="78.30" y="499.20" width="1.40" height="6.00" fill="#000" stroke="none" stroke-width="1" />
<rect x="98.00" y="501.50" width="6.00" height="1.40" fill="#000" stroke="none" stroke-width="1" />
<rect x="100.30" y="499.20" width="1.40" height="6.00" fill="#000" stroke="none" stroke-width="1" />
<rect x="133.90" y="500.30" width="3.20" height="1.40" fill="#000" stroke="none" stroke-width="1" />
<rect x="154.50" y="501.50" width="6.00" height="1.40" fill="#000" stroke="none" stroke-width="1" />
<rect x="156.80" y="499.20" width="1.40" height="6.00" fill="#000" stroke="none" stroke-width="1" />
<rect x="176.50" y="501.50" width="6.00" height="1.40" fill="#000" stroke="none" stroke-width="1" />
<rect x="178.80" y="499.20" width="1.40" height="6.00" fill="#000" stroke="none" stroke-width="1" />
<rect x="55.40" y="512.20" width="3.20" height="1.40" fill="#000" stroke="none" stroke-width="1" />
<rect x="77.40" y="512.20" width="3.20" height="1.40" fill="#000" stroke="none" stroke-width="1" />
<rect x="98.00" y="513.40" width="6.00" height="1.40" fill="#000" stroke="none" stroke-width="1" />
<rect x="100.30" y="511.10" width="1.40" height="6.00" fill="#000" stroke="none" stroke-width="1" />
<rect x="133.90" y="512.20" width="3.20" height="1.40" fill="#000" stroke="none" stroke-width="1" />
<rect x="155.90" y="512.20" width="3.20" height="1.40" fill="#000" stroke="none" stroke-width="1" />
<rect x="176.50" y="513.40" width="6.00" height="1.40" fill="#000" stroke="none" stroke-width="1" />
<rect x="178.80" y="511.10" width="1.40" height="6.00" fill="#000" stroke="none" stroke-width="1" />
<text x="202.30" y="191.40" font-size="17.6" font-weight="bold" text-anchor="start" fill="#000" >E</text>
<rect x="237.80" y="199.90" width="8.40" height="4.40" fill="#fff" stroke="#000" stroke-width="1.0" />
<text x="250.00" y="204.99" font-size="8.7" font-weight="bold" text-anchor="start" fill="#000" >abl-Abi</text>
<rect x="281.30" y="199.90" width="9.60" height="4.40" fill="#808080" stroke="#000" stroke-width="1.0" />
<text x="293.70" y="204.99" font-size="8.7" font-weight="bold" text-anchor="start" fill="#000" >abl-Enza</text>
<rect x="334.50" y="199.40" width="9.30" height="5.40" fill="#000" stroke="none" stroke-width="1" />
<text x="346.40" y="204.99" font-size="8.7" font-weight="bold" text-anchor="start" fill="#000" >PF179TCAF</text>
<line x1="242.50" y1="214.70" x2="242.50" y2="250.40" stroke="#000" stroke-width="1.1" />
<line x1="240.00" y1="214.50" x2="242.80" y2="214.50" stroke="#000" stroke-width="1.1" />
<text x="238.60" y="217.52" font-size="8.2" font-weight="bold" text-anchor="end" fill="#000" >100</text>
<line x1="240.00" y1="232.50" x2="242.80" y2="232.50" stroke="#000" stroke-width="1.1" />
<text x="238.60" y="235.37" font-size="8.2" font-weight="bold" text-anchor="end" fill="#000" >75</text>
<line x1="240.00" y1="250.50" x2="242.80" y2="250.50" stroke="#000" stroke-width="1.1" />
<text x="238.60" y="253.22" font-size="8.2" font-weight="bold" text-anchor="end" fill="#000" >50</text>
<line x1="242.50" y1="259.60" x2="242.50" y2="298.60" stroke="#000" stroke-width="1.1" />
<line x1="240.00" y1="259.50" x2="242.80" y2="259.50" stroke="#000" stroke-width="1.1" />
<text x="238.60" y="262.42" font-size="8.2" font-weight="bold" text-anchor="end" fill="#000" >3</text>
<line x1="240.00" y1="272.50" x2="242.80" y2="272.50" stroke="#000" stroke-width="1.1" />
<text x="238.60" y="275.55" font-size="8.2" font-weight="bold" text-anchor="end" fill="#000" >2</text>
<line x1="240.00" y1="285.50" x2="242.80" y2="285.50" stroke="#000" stroke-width="1.1" />
<text x="238.60" y="288.69" font-size="8.2" font-weight="bold" text-anchor="end" fill="#000" >1</text>
<line x1="240.00" y1="298.50" x2="242.80" y2="298.50" stroke="#000" stroke-width="1.1" />
<text x="238.60" y="301.42" font-size="8.2" font-weight="bold" text-anchor="end" fill="#000" >0</text>
<line x1="242.80" y1="298.50" x2="370.10" y2="298.50" stroke="#000" stroke-width="1.1" />
<text transform="translate(216.00,258.10) rotate(-90)" font-size="8.75" font-weight="bold" text-anchor="middle" fill="#000">MAO-A mRNA</text>
<text transform="translate(224.00,259.30) rotate(-90)" font-size="7.75" font-weight="bold" text-anchor="middle" fill="#000">(fold change)</text>
<line x1="273.50" y1="270.70" x2="273.50" y2="273.50" stroke="#000" stroke-width="1.1" />
<line x1="270.40" y1="270.50" x2="276.40" y2="270.50" stroke="#000" stroke-width="1.1" />
<line x1="315.50" y1="264.50" x2="315.50" y2="270.00" stroke="#000" stroke-width="1.1" />
<line x1="312.50" y1="264.50" x2="318.50" y2="264.50" stroke="#000" stroke-width="1.1" />
<line x1="357.50" y1="230.30" x2="357.50" y2="237.00" stroke="#000" stroke-width="1.1" />
<line x1="354.35" y1="230.50" x2="360.85" y2="230.50" stroke="#000" stroke-width="1.1" />
<rect x="249.95" y="285.80" width="11.10" height="12.80" fill="#fff" stroke="#000" stroke-width="1.2" />
<rect x="267.85" y="273.70" width="11.10" height="24.90" fill="#fff" stroke="#000" stroke-width="1.2" />
<rect x="291.95" y="285.80" width="11.10" height="12.80" fill="#808080" stroke="#000" stroke-width="1.2" />
<rect x="309.95" y="270.10" width="11.10" height="28.50" fill="#808080" stroke="#000" stroke-width="1.2" />
<rect x="333.45" y="285.20" width="12.30" height="13.40" fill="#000" stroke="none" stroke-width="1" />
<rect x="351.45" y="259.60" width="12.30" height="39.00" fill="#000" stroke="none" stroke-width="1" />
<rect x="351.45" y="236.60" width="12.30" height="14.20" fill="#000" stroke="none" stroke-width="1" />
<line x1="255.50" y1="298.60" x2="255.50" y2="301.60" stroke="#000" stroke-width="1.1" />
<line x1="273.50" y1="298.60" x2="273.50" y2="301.60" stroke="#000" stroke-width="1.1" />
<line x1="297.50" y1="298.60" x2="297.50" y2="301.60" stroke="#000" stroke-width="1.1" />
<line x1="315.50" y1="298.60" x2="315.50" y2="301.60" stroke="#000" stroke-width="1.1" />
<line x1="339.50" y1="298.60" x2="339.50" y2="301.60" stroke="#000" stroke-width="1.1" />
<line x1="357.50" y1="298.60" x2="357.50" y2="301.60" stroke="#000" stroke-width="1.1" />
<line x1="256.00" y1="220.50" x2="274.50" y2="220.50" stroke="#000" stroke-width="1.0" />
<line x1="256.50" y1="218.30" x2="256.50" y2="222.90" stroke="#000" stroke-width="1.0" />
<line x1="274.50" y1="218.30" x2="274.50" y2="222.90" stroke="#000" stroke-width="1.0" />
<text x="265.05" y="221.62" font-size="11.0" font-weight="bold" text-anchor="middle" fill="#000" letter-spacing="1.2">*</text>
<line x1="297.60" y1="220.50" x2="315.60" y2="220.50" stroke="#000" stroke-width="1.0" />
<line x1="297.50" y1="218.30" x2="297.50" y2="222.90" stroke="#000" stroke-width="1.0" />
<line x1="315.50" y1="218.30" x2="315.50" y2="222.90" stroke="#000" stroke-width="1.0" />
<text x="306.40" y="221.62" font-size="11.0" font-weight="bold" text-anchor="middle" fill="#000" letter-spacing="1.2">*</text>
<line x1="340.00" y1="220.50" x2="357.80" y2="220.50" stroke="#000" stroke-width="1.0" />
<line x1="340.50" y1="218.30" x2="340.50" y2="222.90" stroke="#000" stroke-width="1.0" />
<line x1="357.50" y1="218.30" x2="357.50" y2="222.90" stroke="#000" stroke-width="1.0" />
<text x="348.70" y="221.62" font-size="11.0" font-weight="bold" text-anchor="middle" fill="#000" letter-spacing="1.2">**</text>
<rect x="253.90" y="306.30" width="3.20" height="1.40" fill="#000" stroke="none" stroke-width="1" />
<rect x="270.40" y="307.50" width="6.00" height="1.40" fill="#000" stroke="none" stroke-width="1" />
<rect x="272.70" y="305.20" width="1.40" height="6.00" fill="#000" stroke="none" stroke-width="1" />
<rect x="295.90" y="306.30" width="3.20" height="1.40" fill="#000" stroke="none" stroke-width="1" />
<rect x="312.50" y="307.50" width="6.00" height="1.40" fill="#000" stroke="none" stroke-width="1" />
<rect x="314.80" y="305.20" width="1.40" height="6.00" fill="#000" stroke="none" stroke-width="1" />
<rect x="338.00" y="306.30" width="3.20" height="1.40" fill="#000" stroke="none" stroke-width="1" />
<rect x="354.60" y="307.50" width="6.00" height="1.40" fill="#000" stroke="none" stroke-width="1" />
<rect x="356.90" y="305.20" width="1.40" height="6.00" fill="#000" stroke="none" stroke-width="1" />
<text x="374.50" y="309.25" font-size="8.0" font-weight="bold" text-anchor="start" fill="#000" >Dex</text>
<text x="251.50" y="322.42" font-size="8.2" font-weight="bold" text-anchor="middle" fill="#000" >1.0</text>
<text x="273.00" y="322.42" font-size="8.2" font-weight="bold" text-anchor="middle" fill="#000" >2.0</text>
<text x="297.20" y="322.42" font-size="8.2" font-weight="bold" text-anchor="middle" fill="#000" >1.0</text>
<text x="315.10" y="322.42" font-size="8.2" font-weight="bold" text-anchor="middle" fill="#000" >1.5</text>
<text x="339.10" y="322.42" font-size="8.2" font-weight="bold" text-anchor="middle" fill="#000" >1.0</text>
<text x="360.90" y="322.42" font-size="8.2" font-weight="bold" text-anchor="middle" fill="#000" >69.9</text>
<text x="223.30" y="412.60" font-size="17.6" font-weight="bold" text-anchor="start" fill="#000" >F</text>
<text x="263.10" y="419.56" font-size="8.6" font-weight="bold" text-anchor="middle" fill="#000" >PC3</text>
<line x1="242.20" y1="423.50" x2="281.50" y2="423.50" stroke="#000" stroke-width="1.1" />
<text x="307.90" y="419.56" font-size="8.6" font-weight="bold" text-anchor="middle" fill="#000" >DU145</text>
<line x1="286.40" y1="423.50" x2="326.10" y2="423.50" stroke="#000" stroke-width="1.1" />
<text x="351.50" y="419.56" font-size="8.6" font-weight="bold" text-anchor="middle" fill="#000" >CWR22Rv1</text>
<line x1="331.00" y1="423.50" x2="371.30" y2="423.50" stroke="#000" stroke-width="1.1" />
<text x="252.50" y="435.12" font-size="8.2" font-weight="bold" text-anchor="middle" fill="#000" >1</text>
<text x="275.10" y="435.12" font-size="8.2" font-weight="bold" text-anchor="middle" fill="#000" >1.8</text>
<text x="296.20" y="435.12" font-size="8.2" font-weight="bold" text-anchor="middle" fill="#000" >1</text>
<text x="316.40" y="435.12" font-size="8.2" font-weight="bold" text-anchor="middle" fill="#000" >11.2</text>
<text x="338.90" y="435.12" font-size="8.2" font-weight="bold" text-anchor="middle" fill="#000" >1</text>
<text x="360.80" y="435.12" font-size="8.2" font-weight="bold" text-anchor="middle" fill="#000" >1.5</text>
<rect x="253.90" y="501.80" width="3.20" height="1.40" fill="#000" stroke="none" stroke-width="1" />
<rect x="275.30" y="503.00" width="6.00" height="1.40" fill="#000" stroke="none" stroke-width="1" />
<rect x="277.60" y="500.70" width="1.40" height="6.00" fill="#000" stroke="none" stroke-width="1" />
<rect x="297.70" y="501.80" width="3.20" height="1.40" fill="#000" stroke="none" stroke-width="1" />
<rect x="317.40" y="503.00" width="6.00" height="1.40" fill="#000" stroke="none" stroke-width="1" />
<rect x="319.70" y="500.70" width="1.40" height="6.00" fill="#000" stroke="none" stroke-width="1" />
<rect x="340.00" y="501.80" width="3.20" height="1.40" fill="#000" stroke="none" stroke-width="1" />
<rect x="358.60" y="503.00" width="6.00" height="1.40" fill="#000" stroke="none" stroke-width="1" />
<rect x="360.90" y="500.70" width="1.40" height="6.00" fill="#000" stroke="none" stroke-width="1" />
<text x="378.20" y="505.65" font-size="8.0" font-weight="bold" text-anchor="start" fill="#000" >Dex</text>
<text x="236.80" y="454.97" font-size="6.9" font-weight="bold" text-anchor="end" fill="#000" >60 kD</text>
<text x="236.80" y="483.17" font-size="6.9" font-weight="bold" text-anchor="end" fill="#000" >37 kD</text>
<text x="375.70" y="455.35" font-size="8.0" font-weight="bold" text-anchor="start" fill="#000" >MAO-A</text>
<text x="375.70" y="481.05" font-size="8.0" font-weight="bold" text-anchor="start" fill="#000" >GAPDH</text>
<text x="372.30" y="338.15" font-size="8.0" font-weight="bold" text-anchor="start" fill="#000" >MAO-A</text>
<text x="372.30" y="359.45" font-size="8.0" font-weight="bold" text-anchor="start" fill="#000" >GAPDH</text>
<text x="236.80" y="337.87" font-size="6.9" font-weight="bold" text-anchor="end" fill="#000" >60 kD</text>
<text x="236.80" y="359.87" font-size="6.9" font-weight="bold" text-anchor="end" fill="#000" >37 kD</text>
<rect x="246.80" y="375.70" width="3.20" height="1.40" fill="#000" stroke="none" stroke-width="1" />
<rect x="266.60" y="376.90" width="6.00" height="1.40" fill="#000" stroke="none" stroke-width="1" />
<rect x="268.90" y="374.60" width="1.40" height="6.00" fill="#000" stroke="none" stroke-width="1" />
<rect x="291.00" y="375.70" width="3.20" height="1.40" fill="#000" stroke="none" stroke-width="1" />
<rect x="309.00" y="376.90" width="6.00" height="1.40" fill="#000" stroke="none" stroke-width="1" />
<rect x="311.30" y="374.60" width="1.40" height="6.00" fill="#000" stroke="none" stroke-width="1" />
<rect x="335.20" y="375.70" width="3.20" height="1.40" fill="#000" stroke="none" stroke-width="1" />
<rect x="353.60" y="376.90" width="6.00" height="1.40" fill="#000" stroke="none" stroke-width="1" />
<rect x="355.90" y="374.60" width="1.40" height="6.00" fill="#000" stroke="none" stroke-width="1" />
<text x="372.30" y="379.85" font-size="8.0" font-weight="bold" text-anchor="start" fill="#000" >Dex</text>
<rect x="240.30" y="324.30" width="41.40" height="20.70" fill="#ececec" stroke="#222" stroke-width="1.0" />
<rect x="240.30" y="347.60" width="41.40" height="20.80" fill="#e2e2e2" stroke="#222" stroke-width="1.0" />
<rect x="284.20" y="324.30" width="42.10" height="20.70" fill="#ececec" stroke="#222" stroke-width="1.0" />
<rect x="284.20" y="347.60" width="42.10" height="20.80" fill="#e2e2e2" stroke="#222" stroke-width="1.0" />
<rect x="328.20" y="324.30" width="41.70" height="20.70" fill="#ececec" stroke="#222" stroke-width="1.0" />
<rect x="328.20" y="347.60" width="41.70" height="20.80" fill="#e2e2e2" stroke="#222" stroke-width="1.0" />
<path d="M244.30,332.70 H256.80 Q258.00,332.70 258.00,333.90 V339.50 Q258.00,340.10 256.50,340.10 Q250.55,338.90 244.60,340.10 Q243.10,340.10 243.10,339.50 V333.90 Q243.10,332.70 244.30,332.70 Z" fill="#000" opacity="0.95" filter="url(#bl)"/>
<ellipse cx="250.55" cy="336.20" rx="5.07" ry="1.48" fill="#555" opacity="0.5" filter="url(#bl)"/>
<path d="M264.30,331.80 H275.80 Q277.00,331.80 277.00,333.00 V340.90 Q277.00,341.50 275.50,341.50 Q270.05,339.50 264.60,341.50 Q263.10,341.50 263.10,340.90 V333.00 Q263.10,331.80 264.30,331.80 Z" fill="#000" opacity="1.0" filter="url(#bl)"/>
<path d="M289.60,332.50 H301.10 Q302.30,332.50 302.30,333.70 V339.20 Q302.30,339.80 300.80,339.80 Q295.35,338.60 289.90,339.80 Q288.40,339.80 288.40,339.20 V333.70 Q288.40,332.50 289.60,332.50 Z" fill="#000" opacity="0.95" filter="url(#bl)"/>
<ellipse cx="295.35" cy="335.95" rx="4.73" ry="1.46" fill="#555" opacity="0.45" filter="url(#bl)"/>
<path d="M307.80,331.20 H320.80 Q322.00,331.20 322.00,332.40 V339.40 Q322.00,340.00 320.50,340.00 Q314.30,338.00 308.10,340.00 Q306.60,340.00 306.60,339.40 V332.40 Q306.60,331.20 307.80,331.20 Z" fill="#000" opacity="1.0" filter="url(#bl)"/>
<path d="M334.20,336.50 H343.80 Q345.00,336.50 345.00,337.70 V337.90 Q345.00,338.50 343.50,338.50 Q339.00,338.50 334.50,338.50 Q333.00,338.50 333.00,337.90 V337.70 Q333.00,336.50 334.20,336.50 Z" fill="#000" opacity="0.05" filter="url(#bl)"/>
<path d="M354.50,331.40 H366.00 Q367.20,331.40 367.20,332.60 V340.40 Q367.20,341.00 365.70,341.00 Q360.25,338.60 354.80,341.00 Q353.30,341.00 353.30,340.40 V332.60 Q353.30,331.40 354.50,331.40 Z" fill="#000" opacity="1.0" filter="url(#bl)"/>
<path d="M242.20,357.75 Q250.30,356.85 258.40,357.75 L258.40,361.35 Q257.40,361.65 255.90,360.85 Q250.30,359.65 244.70,360.85 Q243.20,361.65 242.20,361.35 Z" fill="#000" opacity="1.0" filter="url(#bs)"/>
<path d="M263.60,358.15 Q270.80,357.25 278.00,358.15 L278.00,361.75 Q277.00,362.05 275.50,361.25 Q270.80,360.05 266.10,361.25 Q264.60,362.05 263.60,361.75 Z" fill="#000" opacity="1.0" filter="url(#bs)"/>
<path d="M288.40,358.95 Q295.70,358.05 303.00,358.95 L303.00,362.55 Q302.00,362.85 300.50,362.05 Q295.70,360.85 290.90,362.05 Q289.40,362.85 288.40,362.55 Z" fill="#000" opacity="1.0" filter="url(#bs)"/>
<path d="M307.40,358.95 Q314.70,358.05 322.00,358.95 L322.00,362.55 Q321.00,362.85 319.50,362.05 Q314.70,360.85 309.90,362.05 Q308.40,362.85 307.40,362.55 Z" fill="#000" opacity="1.0" filter="url(#bs)"/>
<path d="M331.70,356.90 Q339.70,356.00 347.70,356.90 L347.70,362.20 Q346.70,362.50 345.20,361.70 Q339.70,359.70 334.20,361.70 Q332.70,362.50 331.70,362.20 Z" fill="#000" opacity="1.0" filter="url(#bs)"/>
<path d="M352.80,356.90 Q360.35,356.00 367.90,356.90 L367.90,362.20 Q366.90,362.50 365.40,361.70 Q360.35,359.70 355.30,361.70 Q353.80,362.50 352.80,362.20 Z" fill="#000" opacity="1.0" filter="url(#bs)"/>
<rect x="238.50" y="437.90" width="133.80" height="26.20" fill="#efefef" stroke="#222" stroke-width="1.0" />
<rect x="238.50" y="467.30" width="133.80" height="27.00" fill="#e2e2e2" stroke="#222" stroke-width="1.0" />
<path d="M243.80,448.00 H260.20 Q261.40,448.00 261.40,449.20 V456.00 Q261.40,456.60 259.90,456.60 Q252.00,455.60 244.10,456.60 Q242.60,456.60 242.60,456.00 V449.20 Q242.60,448.00 243.80,448.00 Z" fill="#000" opacity="0.5" filter="url(#bf)"/>
<path d="M243.60,448.20 H244.60 Q245.80,448.20 245.80,449.40 V455.80 Q245.80,456.40 244.30,456.40 Q244.10,456.40 243.90,456.40 Q242.40,456.40 242.40,455.80 V449.40 Q242.40,448.20 243.60,448.20 Z" fill="#000" opacity="0.8" filter="url(#bf)"/>
<path d="M267.40,446.40 H282.20 Q283.40,446.40 283.40,447.60 V456.20 Q283.40,456.80 281.90,456.80 Q274.80,454.80 267.70,456.80 Q266.20,456.80 266.20,456.20 V447.60 Q266.20,446.40 267.40,446.40 Z" fill="#000" opacity="0.97" filter="url(#bf)"/>
<ellipse cx="274.80" cy="451.40" rx="5.85" ry="2.08" fill="#777" opacity="0.25" filter="url(#bf)"/>
<path d="M289.40,448.80 H303.60 Q304.80,448.80 304.80,450.00 V454.20 Q304.80,454.80 303.30,454.80 Q296.50,454.80 289.70,454.80 Q288.20,454.80 288.20,454.20 V450.00 Q288.20,448.80 289.40,448.80 Z" fill="#000" opacity="0.1" filter="url(#bf)"/>
<path d="M310.20,446.00 H325.60 Q326.80,446.00 326.80,447.20 V455.60 Q326.80,456.20 325.30,456.20 Q317.90,453.80 310.50,456.20 Q309.00,456.20 309.00,455.60 V447.20 Q309.00,446.00 310.20,446.00 Z" fill="#000" opacity="1.0" filter="url(#bf)"/>
<path d="M332.80,447.60 H347.00 Q348.20,447.60 348.20,448.80 V454.80 Q348.20,455.40 346.70,455.40 Q339.90,454.20 333.10,455.40 Q331.60,455.40 331.60,454.80 V448.80 Q331.60,447.60 332.80,447.60 Z" fill="#000" opacity="0.9" filter="url(#bf)"/>
<ellipse cx="339.90" cy="451.30" rx="5.64" ry="1.56" fill="#888" opacity="0.35" filter="url(#bf)"/>
<path d="M354.20,446.60 H368.30 Q369.50,446.60 369.50,447.80 V454.80 Q369.50,455.40 368.00,455.40 Q361.25,453.80 354.50,455.40 Q353.00,455.40 353.00,454.80 V447.80 Q353.00,446.60 354.20,446.60 Z" fill="#000" opacity="0.97" filter="url(#bf)"/>
<ellipse cx="361.25" cy="450.80" rx="5.61" ry="1.76" fill="#888" opacity="0.2" filter="url(#bf)"/>
<path d="M245.90,479.50 Q255.45,478.60 265.00,479.50 L265.00,483.20 Q264.00,483.50 262.50,482.70 Q255.45,481.50 248.40,482.70 Q246.90,483.50 245.90,483.20 Z" fill="#000" opacity="1.0" filter="url(#bs)"/>
<path d="M269.00,479.50 Q277.75,478.60 286.50,479.50 L286.50,483.20 Q285.50,483.50 284.00,482.70 Q277.75,481.50 271.50,482.70 Q270.00,483.50 269.00,483.20 Z" fill="#000" opacity="1.0" filter="url(#bs)"/>
<path d="M291.30,479.50 Q299.45,478.60 307.60,479.50 L307.60,483.20 Q306.60,483.50 305.10,482.70 Q299.45,481.50 293.80,482.70 Q292.30,483.50 291.30,483.20 Z" fill="#000" opacity="1.0" filter="url(#bs)"/>
<path d="M312.00,479.50 Q319.85,478.60 327.70,479.50 L327.70,483.20 Q326.70,483.50 325.20,482.70 Q319.85,481.50 314.50,482.70 Q313.00,483.50 312.00,483.20 Z" fill="#000" opacity="1.0" filter="url(#bs)"/>
<path d="M332.00,479.50 Q340.20,478.60 348.40,479.50 L348.40,483.20 Q347.40,483.50 345.90,482.70 Q340.20,481.50 334.50,482.70 Q333.00,483.50 332.00,483.20 Z" fill="#000" opacity="1.0" filter="url(#bs)"/>
<path d="M352.80,479.50 Q360.95,478.60 369.10,479.50 L369.10,483.20 Q368.10,483.50 366.60,482.70 Q360.95,481.50 355.30,482.70 Q353.80,483.50 352.80,483.20 Z" fill="#000" opacity="1.0" filter="url(#bs)"/>
<text x="411.60" y="191.70" font-size="17.6" font-weight="bold" text-anchor="start" fill="#000" >G</text>
<text x="519.80" y="179.90" font-size="9.8" font-weight="bold" text-anchor="middle" fill="#000" >TCGA-PRAD</text>
<svg x="455.4" y="183.5" width="134.0" height="133.10000000000002" overflow="hidden"><g transform="translate(-455.4,-183.5)">
<circle cx="530.2" cy="204.9" r="2.2" fill="#f03535" stroke="#3a0505" stroke-width="0.45"/>
<circle cx="520.6" cy="247.8" r="2.2" fill="#f03535" stroke="#3a0505" stroke-width="0.45"/>
<circle cx="491.0" cy="251.1" r="2.2" fill="#f03535" stroke="#3a0505" stroke-width="0.45"/>
<circle cx="528.5" cy="264.7" r="2.2" fill="#f03535" stroke="#3a0505" stroke-width="0.45"/>
<circle cx="517.2" cy="253.8" r="2.2" fill="#f03535" stroke="#3a0505" stroke-width="0.45"/>
<circle cx="508.5" cy="239.9" r="2.2" fill="#f03535" stroke="#3a0505" stroke-width="0.45"/>
<circle cx="537.2" cy="256.7" r="2.2" fill="#f03535" stroke="#3a0505" stroke-width="0.45"/>
<circle cx="476.0" cy="254.7" r="2.2" fill="#f03535" stroke="#3a0505" stroke-width="0.45"/>
<circle cx="521.8" cy="246.6" r="2.2" fill="#f03535" stroke="#3a0505" stroke-width="0.45"/>
<circle cx="484.1" cy="231.4" r="2.2" fill="#f03535" stroke="#3a0505" stroke-width="0.45"/>
<circle cx="544.7" cy="244.6" r="2.2" fill="#f03535" stroke="#3a0505" stroke-width="0.45"/>
<circle cx="530.2" cy="233.3" r="2.2" fill="#f03535" stroke="#3a0505" stroke-width="0.45"/>
<circle cx="511.5" cy="247.3" r="2.2" fill="#f03535" stroke="#3a0505" stroke-width="0.45"/>
<circle cx="477.7" cy="234.0" r="2.2" fill="#f03535" stroke="#3a0505" stroke-width="0.45"/>
<circle cx="501.0" cy="239.9" r="2.2" fill="#f03535" stroke="#3a0505" stroke-width="0.45"/>
<circle cx="521.3" cy="241.2" r="2.2" fill="#f03535" stroke="#3a0505" stroke-width="0.45"/>
<circle cx="478.7" cy="251.9" r="2.2" fill="#f03535" stroke="#3a0505" stroke-width="0.45"/>
<circle cx="461.5" cy="281.8" r="2.2" fill="#f03535" stroke="#3a0505" stroke-width="0.45"/>
<circle cx="503.1" cy="226.3" r="2.2" fill="#f03535" stroke="#3a0505" stroke-width="0.45"/>
<circle cx="474.4" cy="248.4" r="2.2" fill="#f03535" stroke="#3a0505" stroke-width="0.45"/>
<circle cx="493.0" cy="233.6" r="2.2" fill="#f03535" stroke="#3a0505" stroke-width="0.45"/>
<circle cx="524.6" cy="251.9" r="2.2" fill="#f03535" stroke="#3a0505" stroke-width="0.45"/>
<circle cx="534.1" cy="266.0" r="2.2" fill="#f03535" stroke="#3a0505" stroke-width="0.45"/>
<circle cx="555.9" cy="243.0" r="2.2" fill="#f03535" stroke="#3a0505" stroke-width="0.45"/>
<circle cx="520.0" cy="235.8" r="2.2" fill="#f03535" stroke="#3a0505" stroke-width="0.45"/>
<circle cx="517.6" cy="295.4" r="2.2" fill="#f03535" stroke="#3a0505" stroke-width="0.45"/>
<circle cx="562.6" cy="232.4" r="2.2" fill="#f03535" stroke="#3a0505" stroke-width="0.45"/>
<circle cx="515.4" cy="255.7" r="2.2" fill="#f03535" stroke="#3a0505" stroke-width="0.45"/>
<circle cx="514.6" cy="246.6" r="2.2" fill="#f03535" stroke="#3a0505" stroke-width="0.45"/>
<circle cx="541.7" cy="229.7" r="2.2" fill="#f03535" stroke="#3a0505" stroke-width="0.45"/>
<circle cx="490.3" cy="251.3" r="2.2" fill="#f03535" stroke="#3a0505" stroke-width="0.45"/>
<circle cx="543.7" cy="218.2" r="2.2" fill="#f03535" stroke="#3a0505" stroke-width="0.45"/>
<circle cx="508.4" cy="245.4" r="2.2" fill="#f03535" stroke="#3a0505" stroke-width="0.45"/>
<circle cx="526.8" cy="273.5" r="2.2" fill="#f03535" stroke="#3a0505" stroke-width="0.45"/>
<circle cx="557.5" cy="229.8" r="2.2" fill="#f03535" stroke="#3a0505" stroke-width="0.45"/>
<circle cx="471.2" cy="247.3" r="2.2" fill="#f03535" stroke="#3a0505" stroke-width="0.45"/>
<circle cx="569.9" cy="228.2" r="2.2" fill="#f03535" stroke="#3a0505" stroke-width="0.45"/>
<circle cx="565.5" cy="240.0" r="2.2" fill="#f03535" stroke="#3a0505" stroke-width="0.45"/>
<circle cx="547.8" cy="244.7" r="2.2" fill="#f03535" stroke="#3a0505" stroke-width="0.45"/>
<circle cx="491.6" cy="291.3" r="2.2" fill="#f03535" stroke="#3a0505" stroke-width="0.45"/>
<circle cx="523.2" cy="229.1" r="2.2" fill="#f03535" stroke="#3a0505" stroke-width="0.45"/>
<circle cx="573.0" cy="254.8" r="2.2" fill="#f03535" stroke="#3a0505" stroke-width="0.45"/>
<circle cx="493.7" cy="253.8" r="2.2" fill="#f03535" stroke="#3a0505" stroke-width="0.45"/>
<circle cx="485.5" cy="225.2" r="2.2" fill="#f03535" stroke="#3a0505" stroke-width="0.45"/>
<circle cx="579.8" cy="256.0" r="2.2" fill="#f03535" stroke="#3a0505" stroke-width="0.45"/>
<circle cx="554.8" cy="265.9" r="2.2" fill="#f03535" stroke="#3a0505" stroke-width="0.45"/>
<circle cx="539.1" cy="252.4" r="2.2" fill="#f03535" stroke="#3a0505" stroke-width="0.45"/>
<circle cx="557.7" cy="256.1" r="2.2" fill="#f03535" stroke="#3a0505" stroke-width="0.45"/>
<circle cx="543.3" cy="208.0" r="2.2" fill="#f03535" stroke="#3a0505" stroke-width="0.45"/>
<circle cx="512.0" cy="235.6" r="2.2" fill="#f03535" stroke="#3a0505" stroke-width="0.45"/>
<circle cx="573.9" cy="260.4" r="2.2" fill="#f03535" stroke="#3a0505" stroke-width="0.45"/>
<circle cx="528.0" cy="247.6" r="2.2" fill="#f03535" stroke="#3a0505" stroke-width="0.45"/>
<circle cx="572.8" cy="257.5" r="2.2" fill="#f03535" stroke="#3a0505" stroke-width="0.45"/>
<circle cx="574.8" cy="223.9" r="2.2" fill="#f03535" stroke="#3a0505" stroke-width="0.45"/>
<circle cx="517.3" cy="239.9" r="2.2" fill="#f03535" stroke="#3a0505" stroke-width="0.45"/>
<circle cx="483.4" cy="251.9" r="2.2" fill="#f03535" stroke="#3a0505" stroke-width="0.45"/>
<circle cx="524.1" cy="222.3" r="2.2" fill="#f03535" stroke="#3a0505" stroke-width="0.45"/>
<circle cx="489.9" cy="245.4" r="2.2" fill="#f03535" stroke="#3a0505" stroke-width="0.45"/>
<circle cx="566.2" cy="238.4" r="2.2" fill="#f03535" stroke="#3a0505" stroke-width="0.45"/>
<circle cx="520.9" cy="211.4" r="2.2" fill="#f03535" stroke="#3a0505" stroke-width="0.45"/>
<circle cx="481.8" cy="246.9" r="2.2" fill="#f03535" stroke="#3a0505" stroke-width="0.45"/>
<circle cx="508.5" cy="298.1" r="2.2" fill="#f03535" stroke="#3a0505" stroke-width="0.45"/>
<circle cx="493.2" cy="301.5" r="2.2" fill="#f03535" stroke="#3a0505" stroke-width="0.45"/>
<circle cx="522.7" cy="246.6" r="2.2" fill="#f03535" stroke="#3a0505" stroke-width="0.45"/>
<circle cx="522.7" cy="234.5" r="2.2" fill="#f03535" stroke="#3a0505" stroke-width="0.45"/>
<circle cx="466.9" cy="240.9" r="2.2" fill="#f03535" stroke="#3a0505" stroke-width="0.45"/>
<circle cx="557.9" cy="219.8" r="2.2" fill="#f03535" stroke="#3a0505" stroke-width="0.45"/>
<circle cx="523.3" cy="247.4" r="2.2" fill="#f03535" stroke="#3a0505" stroke-width="0.45"/>
<circle cx="523.4" cy="222.3" r="2.2" fill="#f03535" stroke="#3a0505" stroke-width="0.45"/>
<circle cx="539.0" cy="235.1" r="2.2" fill="#f03535" stroke="#3a0505" stroke-width="0.45"/>
<circle cx="477.1" cy="253.4" r="2.2" fill="#f03535" stroke="#3a0505" stroke-width="0.45"/>
<circle cx="567.7" cy="249.0" r="2.2" fill="#f03535" stroke="#3a0505" stroke-width="0.45"/>
<circle cx="547.9" cy="246.7" r="2.2" fill="#f03535" stroke="#3a0505" stroke-width="0.45"/>
<circle cx="471.9" cy="243.3" r="2.2" fill="#f03535" stroke="#3a0505" stroke-width="0.45"/>
<circle cx="481.4" cy="227.0" r="2.2" fill="#f03535" stroke="#3a0505" stroke-width="0.45"/>
<circle cx="487.4" cy="255.3" r="2.2" fill="#f03535" stroke="#3a0505" stroke-width="0.45"/>
<circle cx="533.5" cy="234.5" r="2.2" fill="#f03535" stroke="#3a0505" stroke-width="0.45"/>
<circle cx="479.0" cy="249.9" r="2.2" fill="#f03535" stroke="#3a0505" stroke-width="0.45"/>
<circle cx="538.1" cy="246.7" r="2.2" fill="#f03535" stroke="#3a0505" stroke-width="0.45"/>
<circle cx="568.8" cy="229.5" r="2.2" fill="#f03535" stroke="#3a0505" stroke-width="0.45"/>
<circle cx="495.0" cy="235.0" r="2.2" fill="#f03535" stroke="#3a0505" stroke-width="0.45"/>
<circle cx="554.0" cy="266.3" r="2.2" fill="#f03535" stroke="#3a0505" stroke-width="0.45"/>
<circle cx="579.6" cy="238.0" r="2.2" fill="#f03535" stroke="#3a0505" stroke-width="0.45"/>
<circle cx="539.9" cy="237.8" r="2.2" fill="#f03535" stroke="#3a0505" stroke-width="0.45"/>
<circle cx="510.3" cy="233.9" r="2.2" fill="#f03535" stroke="#3a0505" stroke-width="0.45"/>
<circle cx="496.8" cy="245.8" r="2.2" fill="#f03535" stroke="#3a0505" stroke-width="0.45"/>
<circle cx="480.0" cy="239.2" r="2.2" fill="#f03535" stroke="#3a0505" stroke-width="0.45"/>
<circle cx="499.5" cy="246.4" r="2.2" fill="#f03535" stroke="#3a0505" stroke-width="0.45"/>
<circle cx="527.5" cy="247.9" r="2.2" fill="#f03535" stroke="#3a0505" stroke-width="0.45"/>
<circle cx="546.6" cy="256.7" r="2.2" fill="#f03535" stroke="#3a0505" stroke-width="0.45"/>
<circle cx="529.0" cy="257.6" r="2.2" fill="#f03535" stroke="#3a0505" stroke-width="0.45"/>
<circle cx="558.2" cy="250.9" r="2.2" fill="#f03535" stroke="#3a0505" stroke-width="0.45"/>
<circle cx="550.1" cy="229.5" r="2.2" fill="#f03535" stroke="#3a0505" stroke-width="0.45"/>
<circle cx="508.5" cy="277.8" r="2.2" fill="#f03535" stroke="#3a0505" stroke-width="0.45"/>
<circle cx="493.6" cy="229.7" r="2.2" fill="#f03535" stroke="#3a0505" stroke-width="0.45"/>
<circle cx="508.5" cy="264.6" r="2.2" fill="#f03535" stroke="#3a0505" stroke-width="0.45"/>
<circle cx="530.6" cy="243.6" r="2.2" fill="#f03535" stroke="#3a0505" stroke-width="0.45"/>
<circle cx="500.7" cy="232.7" r="2.2" fill="#f03535" stroke="#3a0505" stroke-width="0.45"/>
<circle cx="519.8" cy="244.8" r="2.2" fill="#f03535" stroke="#3a0505" stroke-width="0.45"/>
<circle cx="544.4" cy="235.8" r="2.2" fill="#f03535" stroke="#3a0505" stroke-width="0.45"/>
<circle cx="554.0" cy="234.5" r="2.2" fill="#f03535" stroke="#3a0505" stroke-width="0.45"/>
<circle cx="521.4" cy="242.6" r="2.2" fill="#f03535" stroke="#3a0505" stroke-width="0.45"/>
<circle cx="499.7" cy="245.3" r="2.2" fill="#f03535" stroke="#3a0505" stroke-width="0.45"/>
<circle cx="521.7" cy="250.0" r="2.2" fill="#f03535" stroke="#3a0505" stroke-width="0.45"/>
<circle cx="523.8" cy="198.2" r="2.2" fill="#f03535" stroke="#3a0505" stroke-width="0.45"/>
<circle cx="524.1" cy="198.2" r="2.2" fill="#f03535" stroke="#3a0505" stroke-width="0.45"/>
<circle cx="490.5" cy="228.4" r="2.2" fill="#f03535" stroke="#3a0505" stroke-width="0.45"/>
<circle cx="535.6" cy="210.1" r="2.2" fill="#f03535" stroke="#3a0505" stroke-width="0.45"/>
<circle cx="567.5" cy="254.2" r="2.2" fill="#f03535" stroke="#3a0505" stroke-width="0.45"/>
<circle cx="496.7" cy="230.7" r="2.2" fill="#f03535" stroke="#3a0505" stroke-width="0.45"/>
<circle cx="581.1" cy="229.5" r="2.2" fill="#f03535" stroke="#3a0505" stroke-width="0.45"/>
<circle cx="488.8" cy="238.5" r="2.2" fill="#f03535" stroke="#3a0505" stroke-width="0.45"/>
<circle cx="545.7" cy="245.0" r="2.2" fill="#f03535" stroke="#3a0505" stroke-width="0.45"/>
<circle cx="475.3" cy="273.7" r="2.2" fill="#f03535" stroke="#3a0505" stroke-width="0.45"/>
<circle cx="522.1" cy="256.9" r="2.2" fill="#f03535" stroke="#3a0505" stroke-width="0.45"/>
<circle cx="516.9" cy="241.4" r="2.2" fill="#f03535" stroke="#3a0505" stroke-width="0.45"/>
<circle cx="537.7" cy="232.2" r="2.2" fill="#f03535" stroke="#3a0505" stroke-width="0.45"/>
<circle cx="569.6" cy="257.5" r="2.2" fill="#f03535" stroke="#3a0505" stroke-width="0.45"/>
<circle cx="516.2" cy="242.1" r="2.2" fill="#f03535" stroke="#3a0505" stroke-width="0.45"/>
<circle cx="508.0" cy="231.2" r="2.2" fill="#f03535" stroke="#3a0505" stroke-width="0.45"/>
<circle cx="504.7" cy="229.9" r="2.2" fill="#f03535" stroke="#3a0505" stroke-width="0.45"/>
<circle cx="493.6" cy="271.7" r="2.2" fill="#f03535" stroke="#3a0505" stroke-width="0.45"/>
<circle cx="503.8" cy="262.7" r="2.2" fill="#f03535" stroke="#3a0505" stroke-width="0.45"/>
<circle cx="528.8" cy="216.8" r="2.2" fill="#f03535" stroke="#3a0505" stroke-width="0.45"/>
<circle cx="531.6" cy="262.5" r="2.2" fill="#f03535" stroke="#3a0505" stroke-width="0.45"/>
<circle cx="568.5" cy="246.2" r="2.2" fill="#f03535" stroke="#3a0505" stroke-width="0.45"/>
<circle cx="497.0" cy="222.9" r="2.2" fill="#f03535" stroke="#3a0505" stroke-width="0.45"/>
<circle cx="545.8" cy="244.1" r="2.2" fill="#f03535" stroke="#3a0505" stroke-width="0.45"/>
<circle cx="469.5" cy="250.3" r="2.2" fill="#f03535" stroke="#3a0505" stroke-width="0.45"/>
<circle cx="484.1" cy="264.5" r="2.2" fill="#f03535" stroke="#3a0505" stroke-width="0.45"/>
<circle cx="485.5" cy="234.7" r="2.2" fill="#f03535" stroke="#3a0505" stroke-width="0.45"/>
<circle cx="580.0" cy="257.8" r="2.2" fill="#f03535" stroke="#3a0505" stroke-width="0.45"/>
<circle cx="575.1" cy="214.8" r="2.2" fill="#f03535" stroke="#3a0505" stroke-width="0.45"/>
<circle cx="544.1" cy="265.4" r="2.2" fill="#f03535" stroke="#3a0505" stroke-width="0.45"/>
<circle cx="530.8" cy="230.4" r="2.2" fill="#f03535" stroke="#3a0505" stroke-width="0.45"/>
<circle cx="541.3" cy="232.2" r="2.2" fill="#f03535" stroke="#3a0505" stroke-width="0.45"/>
<circle cx="494.3" cy="219.6" r="2.2" fill="#f03535" stroke="#3a0505" stroke-width="0.45"/>
<circle cx="507.1" cy="227.7" r="2.2" fill="#f03535" stroke="#3a0505" stroke-width="0.45"/>
<circle cx="532.2" cy="225.0" r="2.2" fill="#f03535" stroke="#3a0505" stroke-width="0.45"/>
<circle cx="517.9" cy="252.6" r="2.2" fill="#f03535" stroke="#3a0505" stroke-width="0.45"/>
<circle cx="533.9" cy="244.6" r="2.2" fill="#f03535" stroke="#3a0505" stroke-width="0.45"/>
<circle cx="491.6" cy="251.4" r="2.2" fill="#f03535" stroke="#3a0505" stroke-width="0.45"/>
<circle cx="568.2" cy="229.0" r="2.2" fill="#f03535" stroke="#3a0505" stroke-width="0.45"/>
<circle cx="521.3" cy="280.2" r="2.2" fill="#f03535" stroke="#3a0505" stroke-width="0.45"/>
<circle cx="493.2" cy="267.8" r="2.2" fill="#f03535" stroke="#3a0505" stroke-width="0.45"/>
<circle cx="484.1" cy="242.6" r="2.2" fill="#f03535" stroke="#3a0505" stroke-width="0.45"/>
<circle cx="499.0" cy="216.2" r="2.2" fill="#f03535" stroke="#3a0505" stroke-width="0.45"/>
<circle cx="497.0" cy="233.8" r="2.2" fill="#f03535" stroke="#3a0505" stroke-width="0.45"/>
<circle cx="567.9" cy="234.2" r="2.2" fill="#f03535" stroke="#3a0505" stroke-width="0.45"/>
<circle cx="567.2" cy="247.7" r="2.2" fill="#f03535" stroke="#3a0505" stroke-width="0.45"/>
<circle cx="562.7" cy="265.7" r="2.2" fill="#f03535" stroke="#3a0505" stroke-width="0.45"/>
<circle cx="518.5" cy="241.6" r="2.2" fill="#f03535" stroke="#3a0505" stroke-width="0.45"/>
<circle cx="484.3" cy="249.6" r="2.2" fill="#f03535" stroke="#3a0505" stroke-width="0.45"/>
<circle cx="526.6" cy="244.0" r="2.2" fill="#f03535" stroke="#3a0505" stroke-width="0.45"/>
<circle cx="468.2" cy="254.9" r="2.2" fill="#f03535" stroke="#3a0505" stroke-width="0.45"/>
<circle cx="565.4" cy="245.2" r="2.2" fill="#f03535" stroke="#3a0505" stroke-width="0.45"/>
<circle cx="497.4" cy="206.4" r="2.2" fill="#f03535" stroke="#3a0505" stroke-width="0.45"/>
<circle cx="579.1" cy="254.5" r="2.2" fill="#f03535" stroke="#3a0505" stroke-width="0.45"/>
<circle cx="499.3" cy="260.5" r="2.2" fill="#f03535" stroke="#3a0505" stroke-width="0.45"/>
<circle cx="581.5" cy="232.3" r="2.2" fill="#f03535" stroke="#3a0505" stroke-width="0.45"/>
<circle cx="512.2" cy="243.5" r="2.2" fill="#f03535" stroke="#3a0505" stroke-width="0.45"/>
<circle cx="583.5" cy="258.0" r="2.2" fill="#f03535" stroke="#3a0505" stroke-width="0.45"/>
<circle cx="498.5" cy="239.6" r="2.2" fill="#f03535" stroke="#3a0505" stroke-width="0.45"/>
<circle cx="481.4" cy="249.3" r="2.2" fill="#f03535" stroke="#3a0505" stroke-width="0.45"/>
<circle cx="493.0" cy="233.0" r="2.2" fill="#f03535" stroke="#3a0505" stroke-width="0.45"/>
<circle cx="524.3" cy="311.0" r="2.2" fill="#f03535" stroke="#3a0505" stroke-width="0.45"/>
<circle cx="580.9" cy="253.4" r="2.2" fill="#f03535" stroke="#3a0505" stroke-width="0.45"/>
<circle cx="478.6" cy="264.7" r="2.2" fill="#f03535" stroke="#3a0505" stroke-width="0.45"/>
<circle cx="498.1" cy="246.9" r="2.2" fill="#f03535" stroke="#3a0505" stroke-width="0.45"/>
<circle cx="555.9" cy="247.4" r="2.2" fill="#f03535" stroke="#3a0505" stroke-width="0.45"/>
<circle cx="482.4" cy="264.3" r="2.2" fill="#f03535" stroke="#3a0505" stroke-width="0.45"/>
<circle cx="533.5" cy="216.8" r="2.2" fill="#f03535" stroke="#3a0505" stroke-width="0.45"/>
<circle cx="557.9" cy="233.1" r="2.2" fill="#f03535" stroke="#3a0505" stroke-width="0.45"/>
<circle cx="509.2" cy="245.3" r="2.2" fill="#f03535" stroke="#3a0505" stroke-width="0.45"/>
<circle cx="481.1" cy="254.5" r="2.2" fill="#f03535" stroke="#3a0505" stroke-width="0.45"/>
<circle cx="548.4" cy="231.7" r="2.2" fill="#f03535" stroke="#3a0505" stroke-width="0.45"/>
<circle cx="561.3" cy="286.2" r="2.2" fill="#f03535" stroke="#3a0505" stroke-width="0.45"/>
<circle cx="560.6" cy="237.2" r="2.2" fill="#f03535" stroke="#3a0505" stroke-width="0.45"/>
<circle cx="498.3" cy="275.1" r="2.2" fill="#f03535" stroke="#3a0505" stroke-width="0.45"/>
<circle cx="481.2" cy="265.1" r="2.2" fill="#f03535" stroke="#3a0505" stroke-width="0.45"/>
<circle cx="573.4" cy="234.5" r="2.2" fill="#f03535" stroke="#3a0505" stroke-width="0.45"/>
<circle cx="509.2" cy="274.4" r="2.2" fill="#f03535" stroke="#3a0505" stroke-width="0.45"/>
<circle cx="574.6" cy="251.2" r="2.2" fill="#f03535" stroke="#3a0505" stroke-width="0.45"/>
<circle cx="584.4" cy="252.5" r="2.2" fill="#f03535" stroke="#3a0505" stroke-width="0.45"/>
<circle cx="577.4" cy="242.8" r="2.2" fill="#f03535" stroke="#3a0505" stroke-width="0.45"/>
<circle cx="479.2" cy="257.6" r="2.2" fill="#f03535" stroke="#3a0505" stroke-width="0.45"/>
<circle cx="560.3" cy="250.7" r="2.2" fill="#f03535" stroke="#3a0505" stroke-width="0.45"/>
<circle cx="550.7" cy="261.0" r="2.2" fill="#f03535" stroke="#3a0505" stroke-width="0.45"/>
<circle cx="481.6" cy="256.1" r="2.2" fill="#f03535" stroke="#3a0505" stroke-width="0.45"/>
<circle cx="558.7" cy="243.1" r="2.2" fill="#f03535" stroke="#3a0505" stroke-width="0.45"/>
<circle cx="495.7" cy="249.7" r="2.2" fill="#f03535" stroke="#3a0505" stroke-width="0.45"/>
<circle cx="480.8" cy="229.6" r="2.2" fill="#f03535" stroke="#3a0505" stroke-width="0.45"/>
<circle cx="501.4" cy="267.3" r="2.2" fill="#f03535" stroke="#3a0505" stroke-width="0.45"/>
<circle cx="563.4" cy="230.2" r="2.2" fill="#f03535" stroke="#3a0505" stroke-width="0.45"/>
<circle cx="583.6" cy="241.2" r="2.2" fill="#f03535" stroke="#3a0505" stroke-width="0.45"/>
<circle cx="518.1" cy="237.1" r="2.2" fill="#f03535" stroke="#3a0505" stroke-width="0.45"/>
<circle cx="502.4" cy="223.6" r="2.2" fill="#f03535" stroke="#3a0505" stroke-width="0.45"/>
<circle cx="499.6" cy="249.5" r="2.2" fill="#f03535" stroke="#3a0505" stroke-width="0.45"/>
<circle cx="497.9" cy="260.4" r="2.2" fill="#f03535" stroke="#3a0505" stroke-width="0.45"/>
<circle cx="475.1" cy="260.4" r="2.2" fill="#f03535" stroke="#3a0505" stroke-width="0.45"/>
<circle cx="515.0" cy="236.5" r="2.2" fill="#f03535" stroke="#3a0505" stroke-width="0.45"/>
<circle cx="538.1" cy="259.6" r="2.2" fill="#f03535" stroke="#3a0505" stroke-width="0.45"/>
<circle cx="558.7" cy="242.1" r="2.2" fill="#f03535" stroke="#3a0505" stroke-width="0.45"/>
<circle cx="476.5" cy="260.2" r="2.2" fill="#f03535" stroke="#3a0505" stroke-width="0.45"/>
<circle cx="468.5" cy="266.3" r="2.2" fill="#f03535" stroke="#3a0505" stroke-width="0.45"/>
<circle cx="498.2" cy="240.8" r="2.2" fill="#f03535" stroke="#3a0505" stroke-width="0.45"/>
<circle cx="491.3" cy="259.2" r="2.2" fill="#f03535" stroke="#3a0505" stroke-width="0.45"/>
<circle cx="505.1" cy="269.7" r="2.2" fill="#f03535" stroke="#3a0505" stroke-width="0.45"/>
<circle cx="474.8" cy="262.3" r="2.2" fill="#f03535" stroke="#3a0505" stroke-width="0.45"/>
<circle cx="487.5" cy="250.7" r="2.2" fill="#f03535" stroke="#3a0505" stroke-width="0.45"/>
<circle cx="495.1" cy="249.4" r="2.2" fill="#f03535" stroke="#3a0505" stroke-width="0.45"/>
<circle cx="472.6" cy="264.2" r="2.2" fill="#f03535" stroke="#3a0505" stroke-width="0.45"/>
<circle cx="496.0" cy="250.6" r="2.2" fill="#f03535" stroke="#3a0505" stroke-width="0.45"/>
<circle cx="516.6" cy="234.5" r="2.2" fill="#f03535" stroke="#3a0505" stroke-width="0.45"/>
<circle cx="569.5" cy="253.2" r="2.2" fill="#f03535" stroke="#3a0505" stroke-width="0.45"/>
<circle cx="518.4" cy="266.7" r="2.2" fill="#f03535" stroke="#3a0505" stroke-width="0.45"/>
<circle cx="489.9" cy="216.8" r="2.2" fill="#f03535" stroke="#3a0505" stroke-width="0.45"/>
<circle cx="543.7" cy="260.7" r="2.2" fill="#f03535" stroke="#3a0505" stroke-width="0.45"/>
<circle cx="485.5" cy="271.7" r="2.2" fill="#f03535" stroke="#3a0505" stroke-width="0.45"/>
<circle cx="490.9" cy="256.1" r="2.2" fill="#f03535" stroke="#3a0505" stroke-width="0.45"/>
<circle cx="483.6" cy="244.3" r="2.2" fill="#f03535" stroke="#3a0505" stroke-width="0.45"/>
<circle cx="479.9" cy="244.8" r="2.2" fill="#f03535" stroke="#3a0505" stroke-width="0.45"/>
<circle cx="564.6" cy="236.4" r="2.2" fill="#f03535" stroke="#3a0505" stroke-width="0.45"/>
<circle cx="514.6" cy="229.7" r="2.2" fill="#f03535" stroke="#3a0505" stroke-width="0.45"/>
<circle cx="543.8" cy="231.8" r="2.2" fill="#f03535" stroke="#3a0505" stroke-width="0.45"/>
<circle cx="556.5" cy="250.5" r="2.2" fill="#f03535" stroke="#3a0505" stroke-width="0.45"/>
<circle cx="528.7" cy="256.3" r="2.2" fill="#f03535" stroke="#3a0505" stroke-width="0.45"/>
<circle cx="553.2" cy="223.6" r="2.2" fill="#f03535" stroke="#3a0505" stroke-width="0.45"/>
<circle cx="526.0" cy="245.2" r="2.2" fill="#f03535" stroke="#3a0505" stroke-width="0.45"/>
<circle cx="570.1" cy="221.6" r="2.2" fill="#f03535" stroke="#3a0505" stroke-width="0.45"/>
<circle cx="510.2" cy="241.6" r="2.2" fill="#f03535" stroke="#3a0505" stroke-width="0.45"/>
<circle cx="560.6" cy="219.3" r="2.2" fill="#f03535" stroke="#3a0505" stroke-width="0.45"/>
<circle cx="536.3" cy="233.1" r="2.2" fill="#f03535" stroke="#3a0505" stroke-width="0.45"/>
<circle cx="525.4" cy="228.4" r="2.2" fill="#f03535" stroke="#3a0505" stroke-width="0.45"/>
<circle cx="552.5" cy="227.7" r="2.2" fill="#f03535" stroke="#3a0505" stroke-width="0.45"/>
<circle cx="556.8" cy="254.7" r="2.2" fill="#f03535" stroke="#3a0505" stroke-width="0.45"/>
<circle cx="502.4" cy="211.4" r="2.2" fill="#f03535" stroke="#3a0505" stroke-width="0.45"/>
<circle cx="568.5" cy="258.2" r="2.2" fill="#f03535" stroke="#3a0505" stroke-width="0.45"/>
<circle cx="567.5" cy="262.2" r="2.2" fill="#f03535" stroke="#3a0505" stroke-width="0.45"/>
<circle cx="495.6" cy="245.8" r="2.2" fill="#f03535" stroke="#3a0505" stroke-width="0.45"/>
<circle cx="529.9" cy="259.1" r="2.2" fill="#f03535" stroke="#3a0505" stroke-width="0.45"/>
<circle cx="506.9" cy="248.8" r="2.2" fill="#f03535" stroke="#3a0505" stroke-width="0.45"/>
<circle cx="528.9" cy="230.4" r="2.2" fill="#f03535" stroke="#3a0505" stroke-width="0.45"/>
<circle cx="486.0" cy="248.4" r="2.2" fill="#f03535" stroke="#3a0505" stroke-width="0.45"/>
<circle cx="527.2" cy="252.9" r="2.2" fill="#f03535" stroke="#3a0505" stroke-width="0.45"/>
<circle cx="527.0" cy="254.7" r="2.2" fill="#f03535" stroke="#3a0505" stroke-width="0.45"/>
<circle cx="477.2" cy="254.0" r="2.2" fill="#f03535" stroke="#3a0505" stroke-width="0.45"/>
<circle cx="480.5" cy="244.5" r="2.2" fill="#f03535" stroke="#3a0505" stroke-width="0.45"/>
<circle cx="579.6" cy="255.4" r="2.2" fill="#f03535" stroke="#3a0505" stroke-width="0.45"/>
<circle cx="528.1" cy="223.6" r="2.2" fill="#f03535" stroke="#3a0505" stroke-width="0.45"/>
<circle cx="564.5" cy="261.2" r="2.2" fill="#f03535" stroke="#3a0505" stroke-width="0.45"/>
<circle cx="555.2" cy="236.5" r="2.2" fill="#f03535" stroke="#3a0505" stroke-width="0.45"/>
<circle cx="563.9" cy="251.6" r="2.2" fill="#f03535" stroke="#3a0505" stroke-width="0.45"/>
<circle cx="573.1" cy="261.1" r="2.2" fill="#f03535" stroke="#3a0505" stroke-width="0.45"/>
<circle cx="534.6" cy="267.1" r="2.2" fill="#f03535" stroke="#3a0505" stroke-width="0.45"/>
<circle cx="550.4" cy="254.1" r="2.2" fill="#f03535" stroke="#3a0505" stroke-width="0.45"/>
<circle cx="573.1" cy="250.2" r="2.2" fill="#f03535" stroke="#3a0505" stroke-width="0.45"/>
<circle cx="539.7" cy="258.1" r="2.2" fill="#f03535" stroke="#3a0505" stroke-width="0.45"/>
<circle cx="511.2" cy="227.7" r="2.2" fill="#f03535" stroke="#3a0505" stroke-width="0.45"/>
<circle cx="536.2" cy="229.0" r="2.2" fill="#f03535" stroke="#3a0505" stroke-width="0.45"/>
<circle cx="484.5" cy="261.8" r="2.2" fill="#f03535" stroke="#3a0505" stroke-width="0.45"/>
<circle cx="546.8" cy="229.9" r="2.2" fill="#f03535" stroke="#3a0505" stroke-width="0.45"/>
<circle cx="490.5" cy="240.3" r="2.2" fill="#f03535" stroke="#3a0505" stroke-width="0.45"/>
<circle cx="556.6" cy="229.0" r="2.2" fill="#f03535" stroke="#3a0505" stroke-width="0.45"/>
<circle cx="496.7" cy="253.2" r="2.2" fill="#f03535" stroke="#3a0505" stroke-width="0.45"/>
<circle cx="532.4" cy="252.5" r="2.2" fill="#686868" stroke="#222" stroke-width="0.5"/>
<circle cx="572.5" cy="250.5" r="2.2" fill="#686868" stroke="#222" stroke-width="0.5"/>
<circle cx="524.8" cy="260.3" r="2.2" fill="#686868" stroke="#222" stroke-width="0.5"/>
<circle cx="539.1" cy="249.8" r="2.2" fill="#686868" stroke="#222" stroke-width="0.5"/>
<circle cx="514.7" cy="253.4" r="2.2" fill="#686868" stroke="#222" stroke-width="0.5"/>
<circle cx="574.4" cy="259.0" r="2.2" fill="#686868" stroke="#222" stroke-width="0.5"/>
<circle cx="498.8" cy="264.6" r="2.2" fill="#686868" stroke="#222" stroke-width="0.5"/>
<circle cx="530.2" cy="252.2" r="2.2" fill="#686868" stroke="#222" stroke-width="0.5"/>
<circle cx="559.0" cy="255.4" r="2.2" fill="#686868" stroke="#222" stroke-width="0.5"/>
<circle cx="509.5" cy="257.3" r="2.2" fill="#686868" stroke="#222" stroke-width="0.5"/>
<circle cx="498.2" cy="253.9" r="2.2" fill="#686868" stroke="#222" stroke-width="0.5"/>
<circle cx="534.7" cy="254.5" r="2.2" fill="#686868" stroke="#222" stroke-width="0.5"/>
<circle cx="551.3" cy="254.1" r="2.2" fill="#686868" stroke="#222" stroke-width="0.5"/>
<circle cx="556.9" cy="257.3" r="2.2" fill="#686868" stroke="#222" stroke-width="0.5"/>
<circle cx="524.9" cy="267.3" r="2.2" fill="#686868" stroke="#222" stroke-width="0.5"/>
<circle cx="504.4" cy="252.3" r="2.2" fill="#686868" stroke="#222" stroke-width="0.5"/>
<circle cx="557.4" cy="249.6" r="2.2" fill="#686868" stroke="#222" stroke-width="0.5"/>
<circle cx="523.6" cy="255.1" r="2.2" fill="#686868" stroke="#222" stroke-width="0.5"/>
<circle cx="505.2" cy="264.8" r="2.2" fill="#686868" stroke="#222" stroke-width="0.5"/>
<circle cx="559.1" cy="264.8" r="2.2" fill="#686868" stroke="#222" stroke-width="0.5"/>
<circle cx="499.0" cy="256.3" r="2.2" fill="#686868" stroke="#222" stroke-width="0.5"/>
<circle cx="534.1" cy="261.7" r="2.2" fill="#686868" stroke="#222" stroke-width="0.5"/>
<circle cx="545.9" cy="250.4" r="2.2" fill="#686868" stroke="#222" stroke-width="0.5"/>
<circle cx="535.1" cy="253.3" r="2.2" fill="#686868" stroke="#222" stroke-width="0.5"/>
<circle cx="512.7" cy="251.8" r="2.2" fill="#686868" stroke="#222" stroke-width="0.5"/>
<circle cx="522.7" cy="257.3" r="2.2" fill="#686868" stroke="#222" stroke-width="0.5"/>
<circle cx="546.0" cy="250.9" r="2.2" fill="#686868" stroke="#222" stroke-width="0.5"/>
<circle cx="553.4" cy="251.0" r="2.2" fill="#686868" stroke="#222" stroke-width="0.5"/>
<circle cx="564.4" cy="219.3" r="2.2" fill="#686868" stroke="#222" stroke-width="0.5"/>
<circle cx="578.2" cy="239.9" r="2.2" fill="#686868" stroke="#222" stroke-width="0.5"/>
<circle cx="526.8" cy="238.5" r="2.2" fill="#686868" stroke="#222" stroke-width="0.5"/>
<circle cx="548.4" cy="241.5" r="2.2" fill="#686868" stroke="#222" stroke-width="0.5"/>
<circle cx="560.6" cy="241.9" r="2.2" fill="#686868" stroke="#222" stroke-width="0.5"/>
<circle cx="533.5" cy="244.2" r="2.2" fill="#686868" stroke="#222" stroke-width="0.5"/>
<circle cx="572.8" cy="246.6" r="2.2" fill="#686868" stroke="#222" stroke-width="0.5"/>
<circle cx="578.2" cy="246.6" r="2.2" fill="#686868" stroke="#222" stroke-width="0.5"/>
<circle cx="576.9" cy="250.7" r="2.2" fill="#686868" stroke="#222" stroke-width="0.5"/>
<circle cx="576.9" cy="251.4" r="2.2" fill="#686868" stroke="#222" stroke-width="0.5"/>
<circle cx="522.0" cy="258.2" r="2.2" fill="#686868" stroke="#222" stroke-width="0.5"/>
<circle cx="526.8" cy="257.7" r="2.2" fill="#686868" stroke="#222" stroke-width="0.5"/>
<circle cx="532.9" cy="258.2" r="2.2" fill="#686868" stroke="#222" stroke-width="0.5"/>
<circle cx="522.7" cy="262.9" r="2.2" fill="#686868" stroke="#222" stroke-width="0.5"/>
<circle cx="528.1" cy="264.9" r="2.2" fill="#686868" stroke="#222" stroke-width="0.5"/>
<circle cx="533.5" cy="263.6" r="2.2" fill="#686868" stroke="#222" stroke-width="0.5"/>
<circle cx="540.3" cy="252.7" r="2.2" fill="#686868" stroke="#222" stroke-width="0.5"/>
<circle cx="543.0" cy="256.1" r="2.2" fill="#686868" stroke="#222" stroke-width="0.5"/>
<circle cx="547.1" cy="260.9" r="2.2" fill="#686868" stroke="#222" stroke-width="0.5"/>
<circle cx="553.8" cy="258.2" r="2.2" fill="#686868" stroke="#222" stroke-width="0.5"/>
<circle cx="555.2" cy="262.9" r="2.2" fill="#686868" stroke="#222" stroke-width="0.5"/>
<circle cx="557.9" cy="264.9" r="2.2" fill="#686868" stroke="#222" stroke-width="0.5"/>
<circle cx="560.6" cy="261.5" r="2.2" fill="#686868" stroke="#222" stroke-width="0.5"/>
<circle cx="563.3" cy="250.7" r="2.2" fill="#686868" stroke="#222" stroke-width="0.5"/>
<circle cx="575.5" cy="251.4" r="2.2" fill="#686868" stroke="#222" stroke-width="0.5"/>
<circle cx="520.7" cy="269.7" r="2.2" fill="#686868" stroke="#222" stroke-width="0.5"/>
<circle cx="539.0" cy="260.2" r="2.2" fill="#686868" stroke="#222" stroke-width="0.5"/>
<circle cx="495.6" cy="265.6" r="2.2" fill="#686868" stroke="#222" stroke-width="0.5"/>
<circle cx="499.7" cy="260.2" r="2.2" fill="#686868" stroke="#222" stroke-width="0.5"/>
<circle cx="503.7" cy="258.2" r="2.2" fill="#686868" stroke="#222" stroke-width="0.5"/>
<circle cx="507.8" cy="261.5" r="2.2" fill="#686868" stroke="#222" stroke-width="0.5"/>
<circle cx="510.5" cy="264.9" r="2.2" fill="#686868" stroke="#222" stroke-width="0.5"/>
<circle cx="513.2" cy="260.9" r="2.2" fill="#686868" stroke="#222" stroke-width="0.5"/>
<circle cx="515.9" cy="257.5" r="2.2" fill="#686868" stroke="#222" stroke-width="0.5"/>
<circle cx="518.6" cy="262.9" r="2.2" fill="#686868" stroke="#222" stroke-width="0.5"/>
<circle cx="521.3" cy="267.0" r="2.2" fill="#686868" stroke="#222" stroke-width="0.5"/>
<circle cx="522.7" cy="260.2" r="2.2" fill="#686868" stroke="#222" stroke-width="0.5"/>
<circle cx="506.5" cy="265.6" r="2.2" fill="#686868" stroke="#222" stroke-width="0.5"/>
<circle cx="511.9" cy="256.1" r="2.2" fill="#686868" stroke="#222" stroke-width="0.5"/>
<circle cx="493.7" cy="259.3" r="2.2" fill="#f03535" stroke="#3a0505" stroke-width="0.45"/>
<circle cx="511.9" cy="242.6" r="2.2" fill="#f03535" stroke="#3a0505" stroke-width="0.45"/>
<circle cx="548.4" cy="233.2" r="2.2" fill="#f03535" stroke="#3a0505" stroke-width="0.45"/>
<circle cx="558.8" cy="256.1" r="2.2" fill="#f03535" stroke="#3a0505" stroke-width="0.45"/>
<circle cx="495.6" cy="241.2" r="2.2" fill="#f03535" stroke="#3a0505" stroke-width="0.45"/>
<circle cx="510.5" cy="266.0" r="2.2" fill="#f03535" stroke="#3a0505" stroke-width="0.45"/>
<circle cx="561.7" cy="256.8" r="2.2" fill="#f03535" stroke="#3a0505" stroke-width="0.45"/>
<circle cx="495.0" cy="233.9" r="2.2" fill="#f03535" stroke="#3a0505" stroke-width="0.45"/>
<circle cx="498.3" cy="228.4" r="2.2" fill="#f03535" stroke="#3a0505" stroke-width="0.45"/>
<circle cx="503.7" cy="249.1" r="2.2" fill="#f03535" stroke="#3a0505" stroke-width="0.45"/>
<circle cx="480.6" cy="251.0" r="2.2" fill="#f03535" stroke="#3a0505" stroke-width="0.45"/>
<circle cx="481.3" cy="230.7" r="2.2" fill="#f03535" stroke="#3a0505" stroke-width="0.45"/>
<circle cx="545.0" cy="226.3" r="2.2" fill="#f03535" stroke="#3a0505" stroke-width="0.45"/>
<circle cx="570.2" cy="243.4" r="2.2" fill="#f03535" stroke="#3a0505" stroke-width="0.45"/>
<circle cx="489.9" cy="299.5" r="2.2" fill="#f03535" stroke="#3a0505" stroke-width="0.45"/>
<circle cx="482.0" cy="256.7" r="2.2" fill="#f03535" stroke="#3a0505" stroke-width="0.45"/>
<circle cx="578.8" cy="252.2" r="2.2" fill="#f03535" stroke="#3a0505" stroke-width="0.45"/>
<circle cx="529.1" cy="266.1" r="2.2" fill="#f03535" stroke="#3a0505" stroke-width="0.45"/>
<circle cx="489.9" cy="232.9" r="2.2" fill="#f03535" stroke="#3a0505" stroke-width="0.45"/>
<circle cx="472.7" cy="246.4" r="2.2" fill="#f03535" stroke="#3a0505" stroke-width="0.45"/>
<circle cx="580.8" cy="233.4" r="2.2" fill="#f03535" stroke="#3a0505" stroke-width="0.45"/>
<circle cx="555.5" cy="259.8" r="2.2" fill="#f03535" stroke="#3a0505" stroke-width="0.45"/>
<circle cx="477.0" cy="237.8" r="2.2" fill="#f03535" stroke="#3a0505" stroke-width="0.45"/>
<circle cx="516.6" cy="299.2" r="2.2" fill="#f03535" stroke="#3a0505" stroke-width="0.45"/>
<circle cx="494.7" cy="266.3" r="2.2" fill="#f03535" stroke="#3a0505" stroke-width="0.45"/>
<circle cx="485.1" cy="256.6" r="2.2" fill="#f03535" stroke="#3a0505" stroke-width="0.45"/>
<circle cx="508.8" cy="210.4" r="2.2" fill="#f03535" stroke="#3a0505" stroke-width="0.45"/>
<circle cx="531.9" cy="283.5" r="2.2" fill="#f03535" stroke="#3a0505" stroke-width="0.45"/>
<circle cx="549.8" cy="237.2" r="2.2" fill="#f03535" stroke="#3a0505" stroke-width="0.45"/>
<circle cx="525.4" cy="278.5" r="2.2" fill="#f03535" stroke="#3a0505" stroke-width="0.45"/>
<circle cx="553.0" cy="259.8" r="2.2" fill="#f03535" stroke="#3a0505" stroke-width="0.45"/>
<circle cx="497.7" cy="247.2" r="2.2" fill="#f03535" stroke="#3a0505" stroke-width="0.45"/>
<circle cx="554.9" cy="277.5" r="2.2" fill="#f03535" stroke="#3a0505" stroke-width="0.45"/>
<circle cx="553.8" cy="231.7" r="2.2" fill="#f03535" stroke="#3a0505" stroke-width="0.45"/>
<circle cx="517.3" cy="272.4" r="2.2" fill="#f03535" stroke="#3a0505" stroke-width="0.45"/>
<circle cx="531.0" cy="258.2" r="2.2" fill="#f03535" stroke="#3a0505" stroke-width="0.45"/>
<circle cx="556.3" cy="229.9" r="2.2" fill="#f03535" stroke="#3a0505" stroke-width="0.45"/>
<circle cx="580.1" cy="230.9" r="2.2" fill="#f03535" stroke="#3a0505" stroke-width="0.45"/>
<circle cx="519.3" cy="235.4" r="2.2" fill="#f03535" stroke="#3a0505" stroke-width="0.45"/>
<circle cx="576.8" cy="248.2" r="2.2" fill="#f03535" stroke="#3a0505" stroke-width="0.45"/>
<circle cx="496.8" cy="250.2" r="2.2" fill="#f03535" stroke="#3a0505" stroke-width="0.45"/>
<circle cx="553.8" cy="242.6" r="2.2" fill="#f03535" stroke="#3a0505" stroke-width="0.45"/>
<circle cx="480.6" cy="253.9" r="2.2" fill="#f03535" stroke="#3a0505" stroke-width="0.45"/>
<circle cx="506.2" cy="246.9" r="2.2" fill="#f03535" stroke="#3a0505" stroke-width="0.45"/>
<circle cx="523.4" cy="311.0" r="2.2" fill="#f03535" stroke="#3a0505" stroke-width="0.45"/>
<circle cx="518.6" cy="225.2" r="2.2" fill="#f03535" stroke="#3a0505" stroke-width="0.45"/>
<circle cx="577.8" cy="250.5" r="2.2" fill="#f03535" stroke="#3a0505" stroke-width="0.45"/>
<circle cx="523.4" cy="237.2" r="2.2" fill="#f03535" stroke="#3a0505" stroke-width="0.45"/>
<circle cx="516.4" cy="242.8" r="2.2" fill="#f03535" stroke="#3a0505" stroke-width="0.45"/>
<circle cx="583.3" cy="248.5" r="2.2" fill="#f03535" stroke="#3a0505" stroke-width="0.45"/>
<circle cx="503.7" cy="246.6" r="2.2" fill="#f03535" stroke="#3a0505" stroke-width="0.45"/>
<circle cx="540.3" cy="217.5" r="2.2" fill="#f03535" stroke="#3a0505" stroke-width="0.45"/>
<circle cx="569.2" cy="247.2" r="2.2" fill="#f03535" stroke="#3a0505" stroke-width="0.45"/>
<circle cx="476.5" cy="264.9" r="2.2" fill="#f03535" stroke="#3a0505" stroke-width="0.45"/>
<circle cx="485.5" cy="288.3" r="2.2" fill="#f03535" stroke="#3a0505" stroke-width="0.45"/>
<circle cx="484.8" cy="245.6" r="2.2" fill="#f03535" stroke="#3a0505" stroke-width="0.45"/>
<circle cx="578.3" cy="255.9" r="2.2" fill="#f03535" stroke="#3a0505" stroke-width="0.45"/>
<circle cx="494.3" cy="248.0" r="2.2" fill="#f03535" stroke="#3a0505" stroke-width="0.45"/>
<circle cx="530.3" cy="257.4" r="2.2" fill="#f03535" stroke="#3a0505" stroke-width="0.45"/>
<circle cx="481.7" cy="223.3" r="2.2" fill="#f03535" stroke="#3a0505" stroke-width="0.45"/>
<circle cx="568.3" cy="265.6" r="2.2" fill="#f03535" stroke="#3a0505" stroke-width="0.45"/>
<circle cx="475.3" cy="251.4" r="2.2" fill="#f03535" stroke="#3a0505" stroke-width="0.45"/>
<circle cx="518.6" cy="246.0" r="2.2" fill="#f03535" stroke="#3a0505" stroke-width="0.45"/>
<circle cx="566.7" cy="238.5" r="2.2" fill="#f03535" stroke="#3a0505" stroke-width="0.45"/>
<circle cx="473.5" cy="253.2" r="2.2" fill="#f03535" stroke="#3a0505" stroke-width="0.45"/>
<circle cx="492.9" cy="237.8" r="2.2" fill="#f03535" stroke="#3a0505" stroke-width="0.45"/>
<circle cx="578.1" cy="237.8" r="2.2" fill="#f03535" stroke="#3a0505" stroke-width="0.45"/>
<circle cx="548.4" cy="228.4" r="2.2" fill="#f03535" stroke="#3a0505" stroke-width="0.45"/>
<circle cx="498.1" cy="261.0" r="2.2" fill="#f03535" stroke="#3a0505" stroke-width="0.45"/>
<circle cx="488.2" cy="222.9" r="2.2" fill="#f03535" stroke="#3a0505" stroke-width="0.45"/>
<circle cx="545.4" cy="243.3" r="2.2" fill="#f03535" stroke="#3a0505" stroke-width="0.45"/>
<circle cx="540.3" cy="236.5" r="2.2" fill="#f03535" stroke="#3a0505" stroke-width="0.45"/>
<circle cx="542.9" cy="238.8" r="2.2" fill="#f03535" stroke="#3a0505" stroke-width="0.45"/>
<circle cx="497.2" cy="259.5" r="2.2" fill="#f03535" stroke="#3a0505" stroke-width="0.45"/>
<circle cx="547.1" cy="189.5" r="2.2" fill="#f03535" stroke="#3a0505" stroke-width="0.45"/>
<circle cx="567.9" cy="250.4" r="2.2" fill="#f03535" stroke="#3a0505" stroke-width="0.45"/>
<circle cx="479.5" cy="235.3" r="2.2" fill="#f03535" stroke="#3a0505" stroke-width="0.45"/>
<circle cx="525.5" cy="260.0" r="2.2" fill="#f03535" stroke="#3a0505" stroke-width="0.45"/>
<circle cx="510.7" cy="245.7" r="2.2" fill="#f03535" stroke="#3a0505" stroke-width="0.45"/>
<circle cx="485.2" cy="261.6" r="2.2" fill="#f03535" stroke="#3a0505" stroke-width="0.45"/>
<circle cx="507.9" cy="253.9" r="2.2" fill="#f03535" stroke="#3a0505" stroke-width="0.45"/>
<circle cx="498.3" cy="260.1" r="2.2" fill="#f03535" stroke="#3a0505" stroke-width="0.45"/>
<circle cx="550.8" cy="262.9" r="2.2" fill="#f03535" stroke="#3a0505" stroke-width="0.45"/>
<circle cx="472.6" cy="267.6" r="2.2" fill="#f03535" stroke="#3a0505" stroke-width="0.45"/>
<circle cx="570.2" cy="246.6" r="2.2" fill="#f03535" stroke="#3a0505" stroke-width="0.45"/>
<circle cx="512.4" cy="232.3" r="2.2" fill="#f03535" stroke="#3a0505" stroke-width="0.45"/>
<circle cx="507.1" cy="259.2" r="2.2" fill="#f03535" stroke="#3a0505" stroke-width="0.45"/>
<circle cx="572.2" cy="244.7" r="2.2" fill="#f03535" stroke="#3a0505" stroke-width="0.45"/>
<circle cx="559.9" cy="247.0" r="2.2" fill="#f03535" stroke="#3a0505" stroke-width="0.45"/>
<circle cx="527.8" cy="260.5" r="2.2" fill="#f03535" stroke="#3a0505" stroke-width="0.45"/>
<circle cx="544.2" cy="266.7" r="2.2" fill="#f03535" stroke="#3a0505" stroke-width="0.45"/>
<circle cx="513.3" cy="255.3" r="2.2" fill="#f03535" stroke="#3a0505" stroke-width="0.45"/>
<circle cx="504.7" cy="236.8" r="2.2" fill="#f03535" stroke="#3a0505" stroke-width="0.45"/>
<circle cx="505.8" cy="231.7" r="2.2" fill="#f03535" stroke="#3a0505" stroke-width="0.45"/>
<circle cx="469.9" cy="246.5" r="2.2" fill="#f03535" stroke="#3a0505" stroke-width="0.45"/>
<circle cx="489.5" cy="228.4" r="2.2" fill="#f03535" stroke="#3a0505" stroke-width="0.45"/>
<circle cx="486.0" cy="244.3" r="2.2" fill="#f03535" stroke="#3a0505" stroke-width="0.45"/>
<circle cx="581.3" cy="233.1" r="2.2" fill="#f03535" stroke="#3a0505" stroke-width="0.45"/>
<circle cx="537.3" cy="271.0" r="2.2" fill="#f03535" stroke="#3a0505" stroke-width="0.45"/>
<circle cx="483.3" cy="256.6" r="2.2" fill="#f03535" stroke="#3a0505" stroke-width="0.45"/>
<circle cx="555.9" cy="257.5" r="2.2" fill="#f03535" stroke="#3a0505" stroke-width="0.45"/>
<circle cx="548.4" cy="228.3" r="2.2" fill="#f03535" stroke="#3a0505" stroke-width="0.45"/>
<circle cx="498.9" cy="262.0" r="2.2" fill="#f03535" stroke="#3a0505" stroke-width="0.45"/>
<circle cx="575.2" cy="234.5" r="2.2" fill="#f03535" stroke="#3a0505" stroke-width="0.45"/>
<circle cx="580.9" cy="246.3" r="2.2" fill="#f03535" stroke="#3a0505" stroke-width="0.45"/>
<circle cx="498.2" cy="257.5" r="2.2" fill="#f03535" stroke="#3a0505" stroke-width="0.45"/>
<circle cx="543.8" cy="262.1" r="2.2" fill="#f03535" stroke="#3a0505" stroke-width="0.45"/>
<circle cx="491.6" cy="234.5" r="2.2" fill="#f03535" stroke="#3a0505" stroke-width="0.45"/>
<circle cx="514.5" cy="267.1" r="2.2" fill="#f03535" stroke="#3a0505" stroke-width="0.45"/>
<circle cx="579.6" cy="237.2" r="2.2" fill="#f03535" stroke="#3a0505" stroke-width="0.45"/>
<circle cx="544.9" cy="253.5" r="2.2" fill="#f03535" stroke="#3a0505" stroke-width="0.45"/>
<circle cx="542.3" cy="223.6" r="2.2" fill="#f03535" stroke="#3a0505" stroke-width="0.45"/>
<circle cx="535.6" cy="207.4" r="2.2" fill="#f03535" stroke="#3a0505" stroke-width="0.45"/>
<circle cx="475.0" cy="249.3" r="2.2" fill="#f03535" stroke="#3a0505" stroke-width="0.45"/>
<circle cx="549.8" cy="250.6" r="2.2" fill="#f03535" stroke="#3a0505" stroke-width="0.45"/>
<circle cx="497.6" cy="237.4" r="2.2" fill="#f03535" stroke="#3a0505" stroke-width="0.45"/>
<circle cx="502.3" cy="249.3" r="2.2" fill="#f03535" stroke="#3a0505" stroke-width="0.45"/>
<circle cx="477.1" cy="244.5" r="2.2" fill="#f03535" stroke="#3a0505" stroke-width="0.45"/>
<circle cx="494.1" cy="248.1" r="2.2" fill="#f03535" stroke="#3a0505" stroke-width="0.45"/>
<circle cx="521.1" cy="211.4" r="2.2" fill="#f03535" stroke="#3a0505" stroke-width="0.45"/>
<circle cx="560.6" cy="229.0" r="2.2" fill="#f03535" stroke="#3a0505" stroke-width="0.45"/>
<circle cx="501.7" cy="233.4" r="2.2" fill="#f03535" stroke="#3a0505" stroke-width="0.45"/>
<circle cx="484.7" cy="247.6" r="2.2" fill="#f03535" stroke="#3a0505" stroke-width="0.45"/>
<circle cx="538.6" cy="254.8" r="2.2" fill="#f03535" stroke="#3a0505" stroke-width="0.45"/>
<circle cx="538.3" cy="266.5" r="2.2" fill="#f03535" stroke="#3a0505" stroke-width="0.45"/>
<circle cx="476.7" cy="245.6" r="2.2" fill="#f03535" stroke="#3a0505" stroke-width="0.45"/>
<circle cx="490.6" cy="263.7" r="2.2" fill="#f03535" stroke="#3a0505" stroke-width="0.45"/>
<circle cx="483.4" cy="286.6" r="2.2" fill="#f03535" stroke="#3a0505" stroke-width="0.45"/>
<circle cx="571.5" cy="241.2" r="2.2" fill="#f03535" stroke="#3a0505" stroke-width="0.45"/>
<circle cx="561.3" cy="246.4" r="2.2" fill="#f03535" stroke="#3a0505" stroke-width="0.45"/>
<circle cx="486.1" cy="251.8" r="2.2" fill="#f03535" stroke="#3a0505" stroke-width="0.45"/>
<circle cx="479.4" cy="271.0" r="2.2" fill="#f03535" stroke="#3a0505" stroke-width="0.45"/>
<circle cx="540.3" cy="220.9" r="2.2" fill="#f03535" stroke="#3a0505" stroke-width="0.45"/>
<circle cx="526.8" cy="243.9" r="2.2" fill="#f03535" stroke="#3a0505" stroke-width="0.45"/>
<circle cx="500.1" cy="244.3" r="2.2" fill="#f03535" stroke="#3a0505" stroke-width="0.45"/>
<circle cx="564.7" cy="229.7" r="2.2" fill="#f03535" stroke="#3a0505" stroke-width="0.45"/>
<circle cx="497.3" cy="252.0" r="2.2" fill="#f03535" stroke="#3a0505" stroke-width="0.45"/>
<circle cx="492.2" cy="249.5" r="2.2" fill="#f03535" stroke="#3a0505" stroke-width="0.45"/>
<circle cx="504.4" cy="242.6" r="2.2" fill="#f03535" stroke="#3a0505" stroke-width="0.45"/>
<circle cx="471.9" cy="259.5" r="2.2" fill="#f03535" stroke="#3a0505" stroke-width="0.45"/>
<circle cx="548.9" cy="262.9" r="2.2" fill="#f03535" stroke="#3a0505" stroke-width="0.45"/>
<circle cx="485.5" cy="246.6" r="2.2" fill="#f03535" stroke="#3a0505" stroke-width="0.45"/>
<circle cx="511.1" cy="229.7" r="2.2" fill="#f03535" stroke="#3a0505" stroke-width="0.45"/>
<circle cx="516.8" cy="231.4" r="2.2" fill="#f03535" stroke="#3a0505" stroke-width="0.45"/>
<circle cx="505.6" cy="232.9" r="2.2" fill="#f03535" stroke="#3a0505" stroke-width="0.45"/>
<circle cx="491.8" cy="285.2" r="2.2" fill="#f03535" stroke="#3a0505" stroke-width="0.45"/>
<circle cx="531.5" cy="246.8" r="2.2" fill="#f03535" stroke="#3a0505" stroke-width="0.45"/>
<circle cx="493.7" cy="258.6" r="2.2" fill="#f03535" stroke="#3a0505" stroke-width="0.45"/>
<circle cx="513.9" cy="230.8" r="2.2" fill="#f03535" stroke="#3a0505" stroke-width="0.45"/>
<circle cx="563.0" cy="249.0" r="2.2" fill="#f03535" stroke="#3a0505" stroke-width="0.45"/>
<circle cx="519.8" cy="265.7" r="2.2" fill="#f03535" stroke="#3a0505" stroke-width="0.45"/>
<circle cx="494.8" cy="249.1" r="2.2" fill="#f03535" stroke="#3a0505" stroke-width="0.45"/>
<circle cx="521.5" cy="267.4" r="2.2" fill="#f03535" stroke="#3a0505" stroke-width="0.45"/>
<circle cx="489.0" cy="243.8" r="2.2" fill="#f03535" stroke="#3a0505" stroke-width="0.45"/>
<circle cx="524.9" cy="241.6" r="2.2" fill="#f03535" stroke="#3a0505" stroke-width="0.45"/>
<circle cx="501.7" cy="292.7" r="2.2" fill="#f03535" stroke="#3a0505" stroke-width="0.45"/>
<circle cx="521.4" cy="280.2" r="2.2" fill="#f03535" stroke="#3a0505" stroke-width="0.45"/>
<circle cx="570.3" cy="231.6" r="2.2" fill="#f03535" stroke="#3a0505" stroke-width="0.45"/>
<circle cx="490.2" cy="276.4" r="2.2" fill="#f03535" stroke="#3a0505" stroke-width="0.45"/>
<circle cx="540.3" cy="241.2" r="2.2" fill="#f03535" stroke="#3a0505" stroke-width="0.45"/>
<circle cx="540.3" cy="276.4" r="2.2" fill="#f03535" stroke="#3a0505" stroke-width="0.45"/>
<circle cx="528.1" cy="235.8" r="2.2" fill="#f03535" stroke="#3a0505" stroke-width="0.45"/>
<circle cx="543.3" cy="268.3" r="2.2" fill="#f03535" stroke="#3a0505" stroke-width="0.45"/>
<circle cx="485.5" cy="254.6" r="2.2" fill="#f03535" stroke="#3a0505" stroke-width="0.45"/>
<circle cx="485.0" cy="242.8" r="2.2" fill="#f03535" stroke="#3a0505" stroke-width="0.45"/>
<circle cx="483.5" cy="229.9" r="2.2" fill="#f03535" stroke="#3a0505" stroke-width="0.45"/>
<circle cx="509.8" cy="231.7" r="2.2" fill="#f03535" stroke="#3a0505" stroke-width="0.45"/>
<circle cx="546.7" cy="244.9" r="2.2" fill="#f03535" stroke="#3a0505" stroke-width="0.45"/>
<circle cx="473.4" cy="248.4" r="2.2" fill="#f03535" stroke="#3a0505" stroke-width="0.45"/>
<circle cx="519.5" cy="256.4" r="2.2" fill="#f03535" stroke="#3a0505" stroke-width="0.45"/>
<circle cx="568.0" cy="240.7" r="2.2" fill="#f03535" stroke="#3a0505" stroke-width="0.45"/>
<circle cx="486.3" cy="239.2" r="2.2" fill="#f03535" stroke="#3a0505" stroke-width="0.45"/>
<circle cx="478.0" cy="235.5" r="2.2" fill="#f03535" stroke="#3a0505" stroke-width="0.45"/>
<circle cx="545.9" cy="266.0" r="2.2" fill="#f03535" stroke="#3a0505" stroke-width="0.45"/>
<circle cx="490.2" cy="244.6" r="2.2" fill="#f03535" stroke="#3a0505" stroke-width="0.45"/>
<circle cx="484.2" cy="253.2" r="2.2" fill="#f03535" stroke="#3a0505" stroke-width="0.45"/>
<circle cx="505.2" cy="231.2" r="2.2" fill="#f03535" stroke="#3a0505" stroke-width="0.45"/>
</g></svg>
<line x1="461.90" y1="256.40" x2="583.60" y2="243.10" stroke="#000" stroke-width="1.6" />
<path d="M455.4,183.5 V316.6 H589.4 V183.5" fill="none" stroke="#000" stroke-width="1.1"/>
<rect x="455.4" y="183.5" width="134.0" height="133.10000000000002" fill="none" stroke="#000" stroke-width="1.3"/>
<line x1="452.40" y1="217.50" x2="455.40" y2="217.50" stroke="#000" stroke-width="1.1" />
<text x="449.30" y="220.42" font-size="7.9" font-weight="bold" text-anchor="end" fill="#000" >10</text>
<line x1="452.40" y1="251.50" x2="455.40" y2="251.50" stroke="#000" stroke-width="1.1" />
<text x="449.30" y="254.02" font-size="7.9" font-weight="bold" text-anchor="end" fill="#000" >8</text>
<line x1="452.40" y1="284.50" x2="455.40" y2="284.50" stroke="#000" stroke-width="1.1" />
<text x="449.30" y="287.62" font-size="7.9" font-weight="bold" text-anchor="end" fill="#000" >6</text>
<line x1="479.50" y1="316.60" x2="479.50" y2="319.60" stroke="#000" stroke-width="1.1" />
<text x="479.50" y="330.32" font-size="7.9" font-weight="bold" text-anchor="middle" fill="#000" >-0.4</text>
<line x1="517.50" y1="316.60" x2="517.50" y2="319.60" stroke="#000" stroke-width="1.1" />
<text x="517.30" y="330.32" font-size="7.9" font-weight="bold" text-anchor="middle" fill="#000" >0.0</text>
<line x1="555.50" y1="316.60" x2="555.50" y2="319.60" stroke="#000" stroke-width="1.1" />
<text x="555.10" y="330.32" font-size="7.9" font-weight="bold" text-anchor="middle" fill="#000" >0.4</text>
<text x="521.50" y="338.62" font-size="7.9" font-weight="bold" text-anchor="middle" fill="#000" >GR selective gene set activity</text>
<text transform="translate(428.10,250.50) rotate(-90)" font-size="8.75" font-weight="bold" text-anchor="middle" fill="#000">MAO-A mRNA</text>
<text transform="translate(436.80,249.00) rotate(-90)" font-size="7.8" font-weight="bold" text-anchor="middle" fill="#000">(log2 FPM)</text>
<circle cx="598.5" cy="195.6" r="2.45" fill="#666666" stroke="#222" stroke-width="0.6"/>
<text x="604.50" y="199.02" font-size="7.9" font-weight="bold" text-anchor="start" fill="#000" >benign prostate</text>
<circle cx="598.5" cy="206.8" r="2.45" fill="#e8211f" stroke="#4a0808" stroke-width="0.6"/>
<text x="604.50" y="210.42" font-size="7.9" font-weight="bold" text-anchor="start" fill="#000" >primary PCa</text>
<text x="596.10" y="226.12" font-size="7.9" font-weight="bold" text-anchor="start" fill="#000" ><tspan font-style="italic">R</tspan> = 0.18</text>
<text x="596.10" y="235.32" font-size="7.9" font-weight="bold" text-anchor="start" fill="#000" ><tspan font-style="italic">P</tspan>-value = 2.21e-05</text>
<text x="412.30" y="348.20" font-size="17.6" font-weight="bold" text-anchor="start" fill="#000" >H</text>
<text x="521.80" y="355.00" font-size="9.6" font-weight="bold" text-anchor="middle" fill="#000" >SU2C-PRAD (CRPC)</text>
<svg x="455.4" y="359.0" width="134.0" height="134.0" overflow="hidden"><g transform="translate(-455.4,-359.0)">
<circle cx="481.4" cy="374.5" r="2.15" fill="#4daf4a" stroke="#1f4a1e" stroke-width="0.6"/>
<circle cx="491.6" cy="371.3" r="2.15" fill="#4daf4a" stroke="#1f4a1e" stroke-width="0.6"/>
<circle cx="488.2" cy="379.0" r="2.15" fill="#ff7f00" stroke="#6a3500" stroke-width="0.6"/>
<circle cx="501.3" cy="373.6" r="2.15" fill="#377eb8" stroke="#15344e" stroke-width="0.6"/>
<circle cx="507.5" cy="371.3" r="2.15" fill="#4daf4a" stroke="#1f4a1e" stroke-width="0.6"/>
<circle cx="510.5" cy="372.2" r="2.15" fill="#4daf4a" stroke="#1f4a1e" stroke-width="0.6"/>
<circle cx="507.1" cy="374.2" r="2.15" fill="#377eb8" stroke="#15344e" stroke-width="0.6"/>
<circle cx="492.6" cy="380.3" r="2.15" fill="#377eb8" stroke="#15344e" stroke-width="0.6"/>
<circle cx="493.2" cy="384.0" r="2.15" fill="#4daf4a" stroke="#1f4a1e" stroke-width="0.6"/>
<circle cx="500.4" cy="378.6" r="2.15" fill="#4daf4a" stroke="#1f4a1e" stroke-width="0.6"/>
<circle cx="499.7" cy="382.4" r="2.15" fill="#377eb8" stroke="#15344e" stroke-width="0.6"/>
<circle cx="518.0" cy="379.7" r="2.15" fill="#4daf4a" stroke="#1f4a1e" stroke-width="0.6"/>
<circle cx="521.3" cy="382.1" r="2.15" fill="#377eb8" stroke="#15344e" stroke-width="0.6"/>
<circle cx="521.1" cy="376.3" r="2.15" fill="#4daf4a" stroke="#1f4a1e" stroke-width="0.6"/>
<circle cx="515.3" cy="384.4" r="2.15" fill="#4daf4a" stroke="#1f4a1e" stroke-width="0.6"/>
<circle cx="516.6" cy="386.4" r="2.15" fill="#4daf4a" stroke="#1f4a1e" stroke-width="0.6"/>
<circle cx="522.7" cy="389.1" r="2.15" fill="#377eb8" stroke="#15344e" stroke-width="0.6"/>
<circle cx="493.6" cy="390.2" r="2.15" fill="#4daf4a" stroke="#1f4a1e" stroke-width="0.6"/>
<circle cx="475.0" cy="396.9" r="2.15" fill="#ff7f00" stroke="#6a3500" stroke-width="0.6"/>
<circle cx="483.2" cy="398.2" r="2.15" fill="#ff7f00" stroke="#6a3500" stroke-width="0.6"/>
<circle cx="486.1" cy="400.2" r="2.15" fill="#377eb8" stroke="#15344e" stroke-width="0.6"/>
<circle cx="488.8" cy="400.2" r="2.15" fill="#377eb8" stroke="#15344e" stroke-width="0.6"/>
<circle cx="491.6" cy="400.2" r="2.15" fill="#ff7f00" stroke="#6a3500" stroke-width="0.6"/>
<circle cx="495.6" cy="397.5" r="2.15" fill="#4daf4a" stroke="#1f4a1e" stroke-width="0.6"/>
<circle cx="498.6" cy="399.7" r="2.15" fill="#4daf4a" stroke="#1f4a1e" stroke-width="0.6"/>
<circle cx="499.7" cy="395.2" r="2.15" fill="#4daf4a" stroke="#1f4a1e" stroke-width="0.6"/>
<circle cx="506.5" cy="390.5" r="2.15" fill="#377eb8" stroke="#15344e" stroke-width="0.6"/>
<circle cx="505.4" cy="393.9" r="2.15" fill="#ff7f00" stroke="#6a3500" stroke-width="0.6"/>
<circle cx="508.5" cy="392.5" r="2.15" fill="#4daf4a" stroke="#1f4a1e" stroke-width="0.6"/>
<circle cx="511.9" cy="392.5" r="2.15" fill="#377eb8" stroke="#15344e" stroke-width="0.6"/>
<circle cx="510.5" cy="397.9" r="2.15" fill="#ff7f00" stroke="#6a3500" stroke-width="0.6"/>
<circle cx="506.2" cy="401.3" r="2.15" fill="#4daf4a" stroke="#1f4a1e" stroke-width="0.6"/>
<circle cx="506.2" cy="404.7" r="2.15" fill="#4daf4a" stroke="#1f4a1e" stroke-width="0.6"/>
<circle cx="512.5" cy="403.4" r="2.15" fill="#4daf4a" stroke="#1f4a1e" stroke-width="0.6"/>
<circle cx="516.6" cy="402.7" r="2.15" fill="#377eb8" stroke="#15344e" stroke-width="0.6"/>
<circle cx="515.3" cy="406.1" r="2.15" fill="#ff7f00" stroke="#6a3500" stroke-width="0.6"/>
<circle cx="511.2" cy="407.0" r="2.15" fill="#377eb8" stroke="#15344e" stroke-width="0.6"/>
<circle cx="474.0" cy="408.8" r="2.15" fill="#377eb8" stroke="#15344e" stroke-width="0.6"/>
<circle cx="482.1" cy="407.4" r="2.15" fill="#ff7f00" stroke="#6a3500" stroke-width="0.6"/>
<circle cx="483.4" cy="408.8" r="2.15" fill="#4daf4a" stroke="#1f4a1e" stroke-width="0.6"/>
<circle cx="493.6" cy="409.2" r="2.15" fill="#377eb8" stroke="#15344e" stroke-width="0.6"/>
<circle cx="490.9" cy="412.8" r="2.15" fill="#4daf4a" stroke="#1f4a1e" stroke-width="0.6"/>
<circle cx="496.3" cy="412.2" r="2.15" fill="#4daf4a" stroke="#1f4a1e" stroke-width="0.6"/>
<circle cx="491.6" cy="416.5" r="2.15" fill="#4daf4a" stroke="#1f4a1e" stroke-width="0.6"/>
<circle cx="479.4" cy="416.5" r="2.15" fill="#ff7f00" stroke="#6a3500" stroke-width="0.6"/>
<circle cx="504.4" cy="414.2" r="2.15" fill="#4daf4a" stroke="#1f4a1e" stroke-width="0.6"/>
<circle cx="504.4" cy="419.2" r="2.15" fill="#377eb8" stroke="#15344e" stroke-width="0.6"/>
<circle cx="508.1" cy="420.0" r="2.15" fill="#4daf4a" stroke="#1f4a1e" stroke-width="0.6"/>
<circle cx="512.5" cy="418.3" r="2.15" fill="#ff7f00" stroke="#6a3500" stroke-width="0.6"/>
<circle cx="515.9" cy="421.6" r="2.15" fill="#377eb8" stroke="#15344e" stroke-width="0.6"/>
<circle cx="522.7" cy="412.2" r="2.15" fill="#ff7f00" stroke="#6a3500" stroke-width="0.6"/>
<circle cx="521.3" cy="414.2" r="2.15" fill="#4daf4a" stroke="#1f4a1e" stroke-width="0.6"/>
<circle cx="521.3" cy="391.2" r="2.15" fill="#4daf4a" stroke="#1f4a1e" stroke-width="0.6"/>
<circle cx="522.0" cy="394.6" r="2.15" fill="#ff7f00" stroke="#6a3500" stroke-width="0.6"/>
<circle cx="520.9" cy="399.3" r="2.15" fill="#4daf4a" stroke="#1f4a1e" stroke-width="0.6"/>
<circle cx="523.4" cy="401.3" r="2.15" fill="#984ea3" stroke="#3a1a40" stroke-width="0.6"/>
<circle cx="520.0" cy="424.3" r="2.15" fill="#377eb8" stroke="#15344e" stroke-width="0.6"/>
<circle cx="506.5" cy="424.3" r="2.15" fill="#ff7f00" stroke="#6a3500" stroke-width="0.6"/>
<circle cx="510.5" cy="425.7" r="2.15" fill="#ff7f00" stroke="#6a3500" stroke-width="0.6"/>
<circle cx="501.7" cy="425.0" r="2.15" fill="#377eb8" stroke="#15344e" stroke-width="0.6"/>
<circle cx="498.1" cy="421.6" r="2.15" fill="#984ea3" stroke="#3a1a40" stroke-width="0.6"/>
<circle cx="492.9" cy="424.3" r="2.15" fill="#377eb8" stroke="#15344e" stroke-width="0.6"/>
<circle cx="491.6" cy="425.7" r="2.15" fill="#ff7f00" stroke="#6a3500" stroke-width="0.6"/>
<circle cx="482.8" cy="423.7" r="2.15" fill="#377eb8" stroke="#15344e" stroke-width="0.6"/>
<circle cx="487.5" cy="421.6" r="2.15" fill="#4daf4a" stroke="#1f4a1e" stroke-width="0.6"/>
<circle cx="533.8" cy="365.0" r="2.15" fill="#4daf4a" stroke="#1f4a1e" stroke-width="0.6"/>
<circle cx="541.9" cy="369.1" r="2.15" fill="#4daf4a" stroke="#1f4a1e" stroke-width="0.6"/>
<circle cx="534.6" cy="371.5" r="2.15" fill="#4daf4a" stroke="#1f4a1e" stroke-width="0.6"/>
<circle cx="533.3" cy="375.3" r="2.15" fill="#4daf4a" stroke="#1f4a1e" stroke-width="0.6"/>
<circle cx="541.9" cy="372.2" r="2.15" fill="#4daf4a" stroke="#1f4a1e" stroke-width="0.6"/>
<circle cx="552.5" cy="371.5" r="2.15" fill="#4daf4a" stroke="#1f4a1e" stroke-width="0.6"/>
<circle cx="550.1" cy="375.6" r="2.15" fill="#4daf4a" stroke="#1f4a1e" stroke-width="0.6"/>
<circle cx="563.6" cy="369.5" r="2.15" fill="#ff7f00" stroke="#6a3500" stroke-width="0.6"/>
<circle cx="575.2" cy="370.5" r="2.15" fill="#ff7f00" stroke="#6a3500" stroke-width="0.6"/>
<circle cx="564.7" cy="374.9" r="2.15" fill="#4daf4a" stroke="#1f4a1e" stroke-width="0.6"/>
<circle cx="566.7" cy="376.7" r="2.15" fill="#4daf4a" stroke="#1f4a1e" stroke-width="0.6"/>
<circle cx="539.6" cy="375.6" r="2.15" fill="#377eb8" stroke="#15344e" stroke-width="0.6"/>
<circle cx="541.0" cy="378.3" r="2.15" fill="#4daf4a" stroke="#1f4a1e" stroke-width="0.6"/>
<circle cx="521.4" cy="376.3" r="2.15" fill="#4daf4a" stroke="#1f4a1e" stroke-width="0.6"/>
<circle cx="522.0" cy="381.7" r="2.15" fill="#377eb8" stroke="#15344e" stroke-width="0.6"/>
<circle cx="528.1" cy="380.3" r="2.15" fill="#4daf4a" stroke="#1f4a1e" stroke-width="0.6"/>
<circle cx="532.2" cy="381.0" r="2.15" fill="#377eb8" stroke="#15344e" stroke-width="0.6"/>
<circle cx="532.9" cy="383.7" r="2.15" fill="#377eb8" stroke="#15344e" stroke-width="0.6"/>
<circle cx="536.2" cy="383.0" r="2.15" fill="#377eb8" stroke="#15344e" stroke-width="0.6"/>
<circle cx="528.8" cy="383.7" r="2.15" fill="#ff7f00" stroke="#6a3500" stroke-width="0.6"/>
<circle cx="540.3" cy="382.4" r="2.15" fill="#4daf4a" stroke="#1f4a1e" stroke-width="0.6"/>
<circle cx="543.7" cy="380.3" r="2.15" fill="#4daf4a" stroke="#1f4a1e" stroke-width="0.6"/>
<circle cx="557.9" cy="379.4" r="2.15" fill="#4daf4a" stroke="#1f4a1e" stroke-width="0.6"/>
<circle cx="560.6" cy="379.0" r="2.15" fill="#4daf4a" stroke="#1f4a1e" stroke-width="0.6"/>
<circle cx="572.8" cy="379.4" r="2.15" fill="#4daf4a" stroke="#1f4a1e" stroke-width="0.6"/>
<circle cx="577.9" cy="383.0" r="2.15" fill="#4daf4a" stroke="#1f4a1e" stroke-width="0.6"/>
<circle cx="570.8" cy="386.4" r="2.15" fill="#ff7f00" stroke="#6a3500" stroke-width="0.6"/>
<circle cx="564.7" cy="383.7" r="2.15" fill="#4daf4a" stroke="#1f4a1e" stroke-width="0.6"/>
<circle cx="555.9" cy="383.7" r="2.15" fill="#4daf4a" stroke="#1f4a1e" stroke-width="0.6"/>
<circle cx="550.5" cy="383.0" r="2.15" fill="#377eb8" stroke="#15344e" stroke-width="0.6"/>
<circle cx="549.1" cy="385.1" r="2.15" fill="#4daf4a" stroke="#1f4a1e" stroke-width="0.6"/>
<circle cx="545.0" cy="385.8" r="2.15" fill="#ff7f00" stroke="#6a3500" stroke-width="0.6"/>
<circle cx="553.2" cy="386.4" r="2.15" fill="#ff7f00" stroke="#6a3500" stroke-width="0.6"/>
<circle cx="549.1" cy="388.5" r="2.15" fill="#377eb8" stroke="#15344e" stroke-width="0.6"/>
<circle cx="552.5" cy="390.5" r="2.15" fill="#4daf4a" stroke="#1f4a1e" stroke-width="0.6"/>
<circle cx="557.2" cy="389.1" r="2.15" fill="#4daf4a" stroke="#1f4a1e" stroke-width="0.6"/>
<circle cx="561.3" cy="386.4" r="2.15" fill="#4daf4a" stroke="#1f4a1e" stroke-width="0.6"/>
<circle cx="563.6" cy="387.1" r="2.15" fill="#4daf4a" stroke="#1f4a1e" stroke-width="0.6"/>
<circle cx="566.0" cy="391.2" r="2.15" fill="#377eb8" stroke="#15344e" stroke-width="0.6"/>
<circle cx="522.7" cy="387.1" r="2.15" fill="#4daf4a" stroke="#1f4a1e" stroke-width="0.6"/>
<circle cx="523.4" cy="389.8" r="2.15" fill="#377eb8" stroke="#15344e" stroke-width="0.6"/>
<circle cx="526.8" cy="387.1" r="2.15" fill="#4daf4a" stroke="#1f4a1e" stroke-width="0.6"/>
<circle cx="530.2" cy="387.1" r="2.15" fill="#4daf4a" stroke="#1f4a1e" stroke-width="0.6"/>
<circle cx="536.2" cy="387.1" r="2.15" fill="#4daf4a" stroke="#1f4a1e" stroke-width="0.6"/>
<circle cx="539.0" cy="385.1" r="2.15" fill="#377eb8" stroke="#15344e" stroke-width="0.6"/>
<circle cx="539.0" cy="389.8" r="2.15" fill="#ff7f00" stroke="#6a3500" stroke-width="0.6"/>
<circle cx="528.8" cy="391.2" r="2.15" fill="#984ea3" stroke="#3a1a40" stroke-width="0.6"/>
<circle cx="533.5" cy="390.5" r="2.15" fill="#4daf4a" stroke="#1f4a1e" stroke-width="0.6"/>
<circle cx="536.2" cy="392.5" r="2.15" fill="#ff7f00" stroke="#6a3500" stroke-width="0.6"/>
<circle cx="534.2" cy="394.6" r="2.15" fill="#377eb8" stroke="#15344e" stroke-width="0.6"/>
<circle cx="522.0" cy="394.6" r="2.15" fill="#ff7f00" stroke="#6a3500" stroke-width="0.6"/>
<circle cx="525.4" cy="396.6" r="2.15" fill="#4daf4a" stroke="#1f4a1e" stroke-width="0.6"/>
<circle cx="528.1" cy="397.9" r="2.15" fill="#4daf4a" stroke="#1f4a1e" stroke-width="0.6"/>
<circle cx="531.5" cy="400.0" r="2.15" fill="#ff7f00" stroke="#6a3500" stroke-width="0.6"/>
<circle cx="534.9" cy="398.6" r="2.15" fill="#4daf4a" stroke="#1f4a1e" stroke-width="0.6"/>
<circle cx="539.6" cy="396.6" r="2.15" fill="#984ea3" stroke="#3a1a40" stroke-width="0.6"/>
<circle cx="543.3" cy="397.9" r="2.15" fill="#ff7f00" stroke="#6a3500" stroke-width="0.6"/>
<circle cx="545.7" cy="394.6" r="2.15" fill="#4daf4a" stroke="#1f4a1e" stroke-width="0.6"/>
<circle cx="541.7" cy="391.8" r="2.15" fill="#4daf4a" stroke="#1f4a1e" stroke-width="0.6"/>
<circle cx="548.4" cy="397.9" r="2.15" fill="#377eb8" stroke="#15344e" stroke-width="0.6"/>
<circle cx="552.5" cy="393.9" r="2.15" fill="#4daf4a" stroke="#1f4a1e" stroke-width="0.6"/>
<circle cx="556.6" cy="393.2" r="2.15" fill="#ff7f00" stroke="#6a3500" stroke-width="0.6"/>
<circle cx="559.3" cy="396.6" r="2.15" fill="#ff7f00" stroke="#6a3500" stroke-width="0.6"/>
<circle cx="562.0" cy="396.6" r="2.15" fill="#ff7f00" stroke="#6a3500" stroke-width="0.6"/>
<circle cx="566.0" cy="393.2" r="2.15" fill="#377eb8" stroke="#15344e" stroke-width="0.6"/>
<circle cx="571.7" cy="394.6" r="2.15" fill="#377eb8" stroke="#15344e" stroke-width="0.6"/>
<circle cx="578.2" cy="393.5" r="2.15" fill="#4daf4a" stroke="#1f4a1e" stroke-width="0.6"/>
<circle cx="576.9" cy="394.8" r="2.15" fill="#4daf4a" stroke="#1f4a1e" stroke-width="0.6"/>
<circle cx="574.2" cy="399.3" r="2.15" fill="#4daf4a" stroke="#1f4a1e" stroke-width="0.6"/>
<circle cx="567.1" cy="399.3" r="2.15" fill="#ff7f00" stroke="#6a3500" stroke-width="0.6"/>
<circle cx="556.3" cy="401.1" r="2.15" fill="#ff7f00" stroke="#6a3500" stroke-width="0.6"/>
<circle cx="556.3" cy="403.4" r="2.15" fill="#4daf4a" stroke="#1f4a1e" stroke-width="0.6"/>
<circle cx="553.8" cy="400.6" r="2.15" fill="#377eb8" stroke="#15344e" stroke-width="0.6"/>
<circle cx="566.0" cy="402.7" r="2.15" fill="#377eb8" stroke="#15344e" stroke-width="0.6"/>
<circle cx="565.8" cy="406.1" r="2.15" fill="#377eb8" stroke="#15344e" stroke-width="0.6"/>
<circle cx="549.8" cy="402.0" r="2.15" fill="#4daf4a" stroke="#1f4a1e" stroke-width="0.6"/>
<circle cx="551.8" cy="406.1" r="2.15" fill="#4daf4a" stroke="#1f4a1e" stroke-width="0.6"/>
<circle cx="543.7" cy="404.7" r="2.15" fill="#377eb8" stroke="#15344e" stroke-width="0.6"/>
<circle cx="546.4" cy="404.7" r="2.15" fill="#377eb8" stroke="#15344e" stroke-width="0.6"/>
<circle cx="548.4" cy="407.4" r="2.15" fill="#ff7f00" stroke="#6a3500" stroke-width="0.6"/>
<circle cx="550.5" cy="410.1" r="2.15" fill="#4daf4a" stroke="#1f4a1e" stroke-width="0.6"/>
<circle cx="536.9" cy="408.1" r="2.15" fill="#377eb8" stroke="#15344e" stroke-width="0.6"/>
<circle cx="530.2" cy="410.1" r="2.15" fill="#ff7f00" stroke="#6a3500" stroke-width="0.6"/>
<circle cx="522.7" cy="412.2" r="2.15" fill="#ff7f00" stroke="#6a3500" stroke-width="0.6"/>
<circle cx="522.7" cy="414.2" r="2.15" fill="#4daf4a" stroke="#1f4a1e" stroke-width="0.6"/>
<circle cx="529.5" cy="407.4" r="2.15" fill="#377eb8" stroke="#15344e" stroke-width="0.6"/>
<circle cx="523.4" cy="401.3" r="2.15" fill="#984ea3" stroke="#3a1a40" stroke-width="0.6"/>
<circle cx="541.0" cy="411.5" r="2.15" fill="#ff7f00" stroke="#6a3500" stroke-width="0.6"/>
<circle cx="540.3" cy="413.5" r="2.15" fill="#ff7f00" stroke="#6a3500" stroke-width="0.6"/>
<circle cx="536.9" cy="417.6" r="2.15" fill="#ff7f00" stroke="#6a3500" stroke-width="0.6"/>
<circle cx="533.5" cy="420.3" r="2.15" fill="#ff7f00" stroke="#6a3500" stroke-width="0.6"/>
<circle cx="530.2" cy="421.0" r="2.15" fill="#ff7f00" stroke="#6a3500" stroke-width="0.6"/>
<circle cx="547.1" cy="416.5" r="2.15" fill="#ff7f00" stroke="#6a3500" stroke-width="0.6"/>
<circle cx="551.1" cy="419.6" r="2.15" fill="#ff7f00" stroke="#6a3500" stroke-width="0.6"/>
<circle cx="553.8" cy="421.6" r="2.15" fill="#377eb8" stroke="#15344e" stroke-width="0.6"/>
<circle cx="557.2" cy="418.3" r="2.15" fill="#377eb8" stroke="#15344e" stroke-width="0.6"/>
<circle cx="561.3" cy="417.6" r="2.15" fill="#377eb8" stroke="#15344e" stroke-width="0.6"/>
<circle cx="559.9" cy="422.3" r="2.15" fill="#377eb8" stroke="#15344e" stroke-width="0.6"/>
<circle cx="543.7" cy="421.0" r="2.15" fill="#4daf4a" stroke="#1f4a1e" stroke-width="0.6"/>
<circle cx="543.7" cy="424.3" r="2.15" fill="#4daf4a" stroke="#1f4a1e" stroke-width="0.6"/>
<circle cx="527.4" cy="424.3" r="2.15" fill="#377eb8" stroke="#15344e" stroke-width="0.6"/>
<circle cx="534.2" cy="427.1" r="2.15" fill="#ff7f00" stroke="#6a3500" stroke-width="0.6"/>
<circle cx="537.6" cy="426.4" r="2.15" fill="#4daf4a" stroke="#1f4a1e" stroke-width="0.6"/>
<circle cx="560.6" cy="426.4" r="2.15" fill="#ff7f00" stroke="#6a3500" stroke-width="0.6"/>
<circle cx="467.2" cy="433.8" r="2.15" fill="#ff7f00" stroke="#6a3500" stroke-width="0.6"/>
<circle cx="477.7" cy="434.9" r="2.15" fill="#377eb8" stroke="#15344e" stroke-width="0.6"/>
<circle cx="480.0" cy="431.1" r="2.15" fill="#984ea3" stroke="#3a1a40" stroke-width="0.6"/>
<circle cx="483.7" cy="432.7" r="2.15" fill="#ff7f00" stroke="#6a3500" stroke-width="0.6"/>
<circle cx="491.6" cy="432.5" r="2.15" fill="#377eb8" stroke="#15344e" stroke-width="0.6"/>
<circle cx="493.6" cy="430.9" r="2.15" fill="#ff7f00" stroke="#6a3500" stroke-width="0.6"/>
<circle cx="488.8" cy="436.3" r="2.15" fill="#4daf4a" stroke="#1f4a1e" stroke-width="0.6"/>
<circle cx="471.5" cy="440.9" r="2.15" fill="#377eb8" stroke="#15344e" stroke-width="0.6"/>
<circle cx="486.1" cy="441.3" r="2.15" fill="#4daf4a" stroke="#1f4a1e" stroke-width="0.6"/>
<circle cx="494.3" cy="443.3" r="2.15" fill="#ff7f00" stroke="#6a3500" stroke-width="0.6"/>
<circle cx="499.7" cy="443.0" r="2.15" fill="#ff7f00" stroke="#6a3500" stroke-width="0.6"/>
<circle cx="512.9" cy="444.0" r="2.15" fill="#ff7f00" stroke="#6a3500" stroke-width="0.6"/>
<circle cx="524.1" cy="442.6" r="2.15" fill="#ff7f00" stroke="#6a3500" stroke-width="0.6"/>
<circle cx="493.6" cy="448.0" r="2.15" fill="#4daf4a" stroke="#1f4a1e" stroke-width="0.6"/>
<circle cx="486.1" cy="450.8" r="2.15" fill="#ff7f00" stroke="#6a3500" stroke-width="0.6"/>
<circle cx="461.5" cy="452.5" r="2.15" fill="#ff7f00" stroke="#6a3500" stroke-width="0.6"/>
<circle cx="471.2" cy="452.5" r="2.15" fill="#377eb8" stroke="#15344e" stroke-width="0.6"/>
<circle cx="475.0" cy="453.9" r="2.15" fill="#377eb8" stroke="#15344e" stroke-width="0.6"/>
<circle cx="470.6" cy="456.2" r="2.15" fill="#377eb8" stroke="#15344e" stroke-width="0.6"/>
<circle cx="498.1" cy="458.9" r="2.15" fill="#ff7f00" stroke="#6a3500" stroke-width="0.6"/>
<circle cx="483.4" cy="462.3" r="2.15" fill="#ff7f00" stroke="#6a3500" stroke-width="0.6"/>
<circle cx="473.3" cy="464.7" r="2.15" fill="#4daf4a" stroke="#1f4a1e" stroke-width="0.6"/>
<circle cx="497.0" cy="465.4" r="2.15" fill="#ff7f00" stroke="#6a3500" stroke-width="0.6"/>
<circle cx="489.9" cy="467.4" r="2.15" fill="#984ea3" stroke="#3a1a40" stroke-width="0.6"/>
<circle cx="476.7" cy="470.4" r="2.15" fill="#ff7f00" stroke="#6a3500" stroke-width="0.6"/>
<circle cx="493.6" cy="472.0" r="2.15" fill="#4daf4a" stroke="#1f4a1e" stroke-width="0.6"/>
<circle cx="509.2" cy="465.4" r="2.15" fill="#377eb8" stroke="#15344e" stroke-width="0.6"/>
<circle cx="516.2" cy="462.3" r="2.15" fill="#377eb8" stroke="#15344e" stroke-width="0.6"/>
<circle cx="523.0" cy="464.3" r="2.15" fill="#377eb8" stroke="#15344e" stroke-width="0.6"/>
<circle cx="512.9" cy="451.4" r="2.15" fill="#ff7f00" stroke="#6a3500" stroke-width="0.6"/>
<circle cx="494.9" cy="479.9" r="2.15" fill="#4daf4a" stroke="#1f4a1e" stroke-width="0.6"/>
<circle cx="473.3" cy="483.7" r="2.15" fill="#4daf4a" stroke="#1f4a1e" stroke-width="0.6"/>
<circle cx="475.0" cy="482.3" r="2.15" fill="#377eb8" stroke="#15344e" stroke-width="0.6"/>
<circle cx="521.6" cy="483.9" r="2.15" fill="#4daf4a" stroke="#1f4a1e" stroke-width="0.6"/>
<circle cx="515.3" cy="434.9" r="2.15" fill="#377eb8" stroke="#15344e" stroke-width="0.6"/>
<circle cx="518.0" cy="433.2" r="2.15" fill="#377eb8" stroke="#15344e" stroke-width="0.6"/>
<circle cx="521.6" cy="435.9" r="2.15" fill="#ff7f00" stroke="#6a3500" stroke-width="0.6"/>
<circle cx="515.3" cy="429.1" r="2.15" fill="#984ea3" stroke="#3a1a40" stroke-width="0.6"/>
<circle cx="519.3" cy="427.7" r="2.15" fill="#4daf4a" stroke="#1f4a1e" stroke-width="0.6"/>
<circle cx="507.1" cy="429.1" r="2.15" fill="#4daf4a" stroke="#1f4a1e" stroke-width="0.6"/>
<circle cx="510.5" cy="429.1" r="2.15" fill="#377eb8" stroke="#15344e" stroke-width="0.6"/>
<circle cx="492.9" cy="425.0" r="2.15" fill="#377eb8" stroke="#15344e" stroke-width="0.6"/>
<circle cx="501.7" cy="425.0" r="2.15" fill="#377eb8" stroke="#15344e" stroke-width="0.6"/>
<circle cx="502.4" cy="427.7" r="2.15" fill="#ff7f00" stroke="#6a3500" stroke-width="0.6"/>
<circle cx="507.1" cy="424.4" r="2.15" fill="#ff7f00" stroke="#6a3500" stroke-width="0.6"/>
<circle cx="511.2" cy="425.7" r="2.15" fill="#ff7f00" stroke="#6a3500" stroke-width="0.6"/>
<circle cx="497.6" cy="423.0" r="2.15" fill="#984ea3" stroke="#3a1a40" stroke-width="0.6"/>
<circle cx="527.9" cy="424.6" r="2.15" fill="#377eb8" stroke="#15344e" stroke-width="0.6"/>
<circle cx="524.1" cy="429.1" r="2.15" fill="#377eb8" stroke="#15344e" stroke-width="0.6"/>
<circle cx="526.5" cy="431.8" r="2.15" fill="#377eb8" stroke="#15344e" stroke-width="0.6"/>
<circle cx="534.2" cy="427.7" r="2.15" fill="#ff7f00" stroke="#6a3500" stroke-width="0.6"/>
<circle cx="538.3" cy="427.1" r="2.15" fill="#4daf4a" stroke="#1f4a1e" stroke-width="0.6"/>
<circle cx="544.1" cy="424.4" r="2.15" fill="#4daf4a" stroke="#1f4a1e" stroke-width="0.6"/>
<circle cx="539.2" cy="432.7" r="2.15" fill="#4daf4a" stroke="#1f4a1e" stroke-width="0.6"/>
<circle cx="545.0" cy="430.9" r="2.15" fill="#4daf4a" stroke="#1f4a1e" stroke-width="0.6"/>
<circle cx="533.3" cy="434.9" r="2.15" fill="#4daf4a" stroke="#1f4a1e" stroke-width="0.6"/>
<circle cx="521.6" cy="435.9" r="2.15" fill="#ff7f00" stroke="#6a3500" stroke-width="0.6"/>
<circle cx="560.3" cy="427.3" r="2.15" fill="#ff7f00" stroke="#6a3500" stroke-width="0.6"/>
<circle cx="557.2" cy="435.9" r="2.15" fill="#ff7f00" stroke="#6a3500" stroke-width="0.6"/>
<circle cx="525.1" cy="442.6" r="2.15" fill="#ff7f00" stroke="#6a3500" stroke-width="0.6"/>
<circle cx="528.8" cy="445.3" r="2.15" fill="#ff7f00" stroke="#6a3500" stroke-width="0.6"/>
<circle cx="583.0" cy="451.4" r="2.15" fill="#ff7f00" stroke="#6a3500" stroke-width="0.6"/>
<circle cx="562.2" cy="459.8" r="2.15" fill="#4daf4a" stroke="#1f4a1e" stroke-width="0.6"/>
<circle cx="523.0" cy="464.3" r="2.15" fill="#377eb8" stroke="#15344e" stroke-width="0.6"/>
<circle cx="522.0" cy="483.9" r="2.15" fill="#4daf4a" stroke="#1f4a1e" stroke-width="0.6"/>
<circle cx="552.2" cy="486.6" r="2.15" fill="#4daf4a" stroke="#1f4a1e" stroke-width="0.6"/>
<circle cx="553.8" cy="423.0" r="2.15" fill="#377eb8" stroke="#15344e" stroke-width="0.6"/>
<circle cx="560.3" cy="423.0" r="2.15" fill="#377eb8" stroke="#15344e" stroke-width="0.6"/>
</g></svg>
<line x1="461.90" y1="432.00" x2="582.90" y2="385.70" stroke="#000" stroke-width="1.6" />
<rect x="455.4" y="359.0" width="134.0" height="134.0" fill="none" stroke="#000" stroke-width="1.3"/>
<line x1="452.40" y1="392.50" x2="455.40" y2="392.50" stroke="#000" stroke-width="1.1" />
<text x="449.30" y="395.50" font-size="7.9" font-weight="bold" text-anchor="end" fill="#000" >6</text>
<line x1="452.40" y1="424.50" x2="455.40" y2="424.50" stroke="#000" stroke-width="1.1" />
<text x="449.30" y="426.91" font-size="7.9" font-weight="bold" text-anchor="end" fill="#000" >3</text>
<line x1="452.40" y1="455.50" x2="455.40" y2="455.50" stroke="#000" stroke-width="1.1" />
<text x="449.30" y="458.32" font-size="7.9" font-weight="bold" text-anchor="end" fill="#000" >0</text>
<line x1="452.40" y1="487.50" x2="455.40" y2="487.50" stroke="#000" stroke-width="1.1" />
<text x="449.30" y="489.73" font-size="7.9" font-weight="bold" text-anchor="end" fill="#000" >-3</text>
<line x1="460.50" y1="493.00" x2="460.50" y2="496.00" stroke="#000" stroke-width="1.1" />
<text x="461.00" y="504.72" font-size="7.9" font-weight="bold" text-anchor="middle" fill="#000" >-0.6</text>
<line x1="489.50" y1="493.00" x2="489.50" y2="496.00" stroke="#000" stroke-width="1.1" />
<text x="490.60" y="504.72" font-size="7.9" font-weight="bold" text-anchor="middle" fill="#000" >-0.4</text>
<line x1="519.50" y1="493.00" x2="519.50" y2="496.00" stroke="#000" stroke-width="1.1" />
<text x="520.40" y="504.72" font-size="7.9" font-weight="bold" text-anchor="middle" fill="#000" >0.0</text>
<line x1="549.50" y1="493.00" x2="549.50" y2="496.00" stroke="#000" stroke-width="1.1" />
<text x="550.10" y="504.72" font-size="7.9" font-weight="bold" text-anchor="middle" fill="#000" >0.4</text>
<line x1="578.50" y1="493.00" x2="578.50" y2="496.00" stroke="#000" stroke-width="1.1" />
<text x="579.60" y="504.72" font-size="7.9" font-weight="bold" text-anchor="middle" fill="#000" >0.6</text>
<text x="521.60" y="514.82" font-size="7.9" font-weight="bold" text-anchor="middle" fill="#000" >GR selective gene set activity</text>
<text transform="translate(428.10,425.50) rotate(-90)" font-size="8.75" font-weight="bold" text-anchor="middle" fill="#000">MAO-A mRNA</text>
<text transform="translate(437.20,427.20) rotate(-90)" font-size="7.8" font-weight="bold" text-anchor="middle" fill="#000">(log2 FPM)</text>
<circle cx="598.5" cy="371.8" r="2.35" fill="#4daf4a" stroke="#1f4a1e" stroke-width="0.55"/>
<text x="606.80" y="375.22" font-size="7.9" font-weight="bold" text-anchor="start" fill="#000" >lymph node mCRPC</text>
<circle cx="598.5" cy="382.4" r="2.35" fill="#ff7f00" stroke="#6a3500" stroke-width="0.55"/>
<text x="606.80" y="385.82" font-size="7.9" font-weight="bold" text-anchor="start" fill="#000" >soft tissue mCRPC</text>
<circle cx="598.5" cy="392.6" r="2.35" fill="#984ea3" stroke="#3a1a40" stroke-width="0.55"/>
<text x="606.80" y="396.02" font-size="7.9" font-weight="bold" text-anchor="start" fill="#000" >primary CRPC</text>
<circle cx="598.5" cy="404.2" r="2.35" fill="#377eb8" stroke="#15344e" stroke-width="0.55"/>
<text x="606.80" y="407.62" font-size="7.9" font-weight="bold" text-anchor="start" fill="#000" >bone mCRPC</text>
<text x="596.10" y="428.32" font-size="7.9" font-weight="bold" text-anchor="start" fill="#000" ><tspan font-style="italic">R</tspan> = 0.414</text>
<text x="596.10" y="438.32" font-size="7.9" font-weight="bold" text-anchor="start" fill="#000" ><tspan font-style="italic">P</tspan>-value = 1.28e-12</text>
</svg></body></html>
